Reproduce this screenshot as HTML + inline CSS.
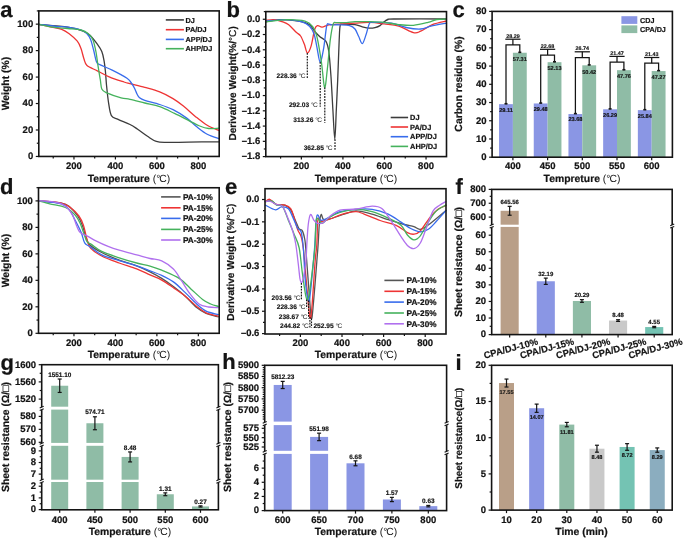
<!DOCTYPE html>
<html><head><meta charset="utf-8"><title>figure</title>
<style>
html,body{margin:0;padding:0;background:#fff;overflow:hidden;}
svg{display:block;font-family:"Liberation Sans", sans-serif;will-change:transform;text-rendering:geometricPrecision;}
</style></head><body>
<svg width="685" height="539" viewBox="0 0 685 539">
<rect width="685" height="539" fill="#fff"/>
<path d="M38.8,24.3C43.62,24.77 60.42,26.02 67.7,27.1C74.98,28.18 78.8,29.45 82.5,30.8C86.2,32.15 87.43,32.98 89.9,35.2C92.37,37.42 95.32,41.38 97.3,44.1C99.28,46.82 100.68,48.78 101.8,51.5C102.92,54.22 103.38,56.93 104,60.4C104.62,63.87 105.08,68.2 105.5,72.3C105.92,76.4 106,80 106.5,85C107,90 107.68,97.2 108.5,102.3C109.32,107.4 109.8,112.77 111.4,115.6C113,118.43 115,117.82 118.1,119.3C121.2,120.78 126.8,122.88 130,124.5C133.2,126.12 134.38,127.03 137.3,129C140.22,130.97 144.33,134.23 147.5,136.3C150.67,138.37 153.13,140.38 156.3,141.4C159.47,142.42 161.15,142.28 166.5,142.4C171.85,142.52 179.65,142.2 188.4,142.1C197.15,142 213.9,141.85 219,141.8" fill="none" stroke="#3c3c3c" stroke-width="1.3" stroke-linejoin="round" stroke-linecap="round"/>
<path d="M38.8,24.3C40.9,24.77 47.58,26.27 51.4,27.1C55.22,27.93 58.73,28.2 61.7,29.3C64.67,30.4 66.6,31.72 69.2,33.7C71.8,35.68 75.33,38.72 77.3,41.2C79.27,43.68 79.88,45.63 81,48.6C82.12,51.57 83,56.17 84,59C85,61.83 84.78,63.63 87,65.6C89.22,67.57 93.6,68.93 97.3,70.8C101,72.67 104.75,74.93 109.2,76.8C113.65,78.67 120.53,80.85 124,82C127.47,83.15 126.53,82.8 130,83.7C133.47,84.6 139.85,86.03 144.8,87.4C149.75,88.77 155,90.03 159.7,91.9C164.4,93.77 169.05,96.25 173,98.6C176.95,100.95 179.68,103.03 183.4,106C187.12,108.97 191.33,113.18 195.3,116.4C199.27,119.62 203.25,122.95 207.2,125.3C211.15,127.65 217.03,129.63 219,130.5" fill="none" stroke="#ee3434" stroke-width="1.3" stroke-linejoin="round" stroke-linecap="round"/>
<path d="M38.8,24.3C41.63,24.63 50.98,25.83 55.8,26.3C60.62,26.77 63.5,26.48 67.7,27.1C71.9,27.72 77.78,28.9 81,30C84.22,31.1 85.38,32.08 87,33.7C88.62,35.32 89.6,36.98 90.7,39.7C91.8,42.42 92.62,46.3 93.6,50C94.58,53.7 95.48,59.42 96.6,61.9C97.72,64.38 97.7,63.53 100.3,64.9C102.9,66.27 107.75,67.88 112.2,70.1C116.65,72.32 123.87,76.13 127,78.2C130.13,80.27 129.75,80.83 131,82.5C132.25,84.17 133.5,86.28 134.5,88.2C135.5,90.12 136.15,92.4 137,94C137.85,95.6 138.3,96.73 139.6,97.8C140.9,98.87 141.45,99.28 144.8,100.4C148.15,101.52 155,102.95 159.7,104.5C164.4,106.05 168.55,107.47 173,109.7C177.45,111.93 182.43,115.05 186.4,117.9C190.37,120.75 193.33,124.08 196.8,126.8C200.27,129.52 203.5,132.23 207.2,134.2C210.9,136.17 217.03,137.87 219,138.6" fill="none" stroke="#386cec" stroke-width="1.3" stroke-linejoin="round" stroke-linecap="round"/>
<path d="M38.8,24.3C41.13,24.77 47.98,26.4 52.8,27.1C57.62,27.8 63,28.02 67.7,28.5C72.4,28.98 77.55,29.13 81,30C84.45,30.87 86.42,32.08 88.4,33.7C90.38,35.32 91.65,36.73 92.9,39.7C94.15,42.67 95.03,47.05 95.9,51.5C96.77,55.95 97.37,61.7 98.1,66.4C98.83,71.1 99.68,75.95 100.3,79.7C100.92,83.45 100.82,86.75 101.8,88.9C102.78,91.05 102.98,91.12 106.2,92.6C109.42,94.08 117.13,96.68 121.1,97.8C125.07,98.92 126.05,98.43 130,99.3C133.95,100.17 139.85,101.77 144.8,103C149.75,104.23 154.75,104.97 159.7,106.7C164.65,108.43 169.57,111.05 174.5,113.4C179.43,115.75 185.1,118.7 189.3,120.8C193.5,122.9 196.48,124.72 199.7,126C202.92,127.28 205.38,128.13 208.6,128.5C211.82,128.87 217.27,128.25 219,128.2" fill="none" stroke="#45b25c" stroke-width="1.3" stroke-linejoin="round" stroke-linecap="round"/>
<rect x="38.8" y="10.9" width="180.4" height="145.55" fill="none" stroke="#141414" stroke-width="1.6"/>
<line x1="35.8" y1="156.45" x2="38.8" y2="156.45" stroke="#141414" stroke-width="1.2"/>
<line x1="35.8" y1="129.99" x2="38.8" y2="129.99" stroke="#141414" stroke-width="1.2"/>
<line x1="35.8" y1="103.53" x2="38.8" y2="103.53" stroke="#141414" stroke-width="1.2"/>
<line x1="35.8" y1="77.07" x2="38.8" y2="77.07" stroke="#141414" stroke-width="1.2"/>
<line x1="35.8" y1="50.61" x2="38.8" y2="50.61" stroke="#141414" stroke-width="1.2"/>
<line x1="35.8" y1="24.15" x2="38.8" y2="24.15" stroke="#141414" stroke-width="1.2"/>
<line x1="36.8" y1="143.22" x2="38.8" y2="143.22" stroke="#141414" stroke-width="1.2"/>
<line x1="36.8" y1="116.76" x2="38.8" y2="116.76" stroke="#141414" stroke-width="1.2"/>
<line x1="36.8" y1="90.3" x2="38.8" y2="90.3" stroke="#141414" stroke-width="1.2"/>
<line x1="36.8" y1="63.84" x2="38.8" y2="63.84" stroke="#141414" stroke-width="1.2"/>
<line x1="36.8" y1="37.38" x2="38.8" y2="37.38" stroke="#141414" stroke-width="1.2"/>
<line x1="36.8" y1="10.92" x2="38.8" y2="10.92" stroke="#141414" stroke-width="1.2"/>
<line x1="73.96" y1="156.45" x2="73.96" y2="159.45" stroke="#141414" stroke-width="1.2"/>
<line x1="115.42" y1="156.45" x2="115.42" y2="159.45" stroke="#141414" stroke-width="1.2"/>
<line x1="156.88" y1="156.45" x2="156.88" y2="159.45" stroke="#141414" stroke-width="1.2"/>
<line x1="198.34" y1="156.45" x2="198.34" y2="159.45" stroke="#141414" stroke-width="1.2"/>
<line x1="53.23" y1="156.45" x2="53.23" y2="158.45" stroke="#141414" stroke-width="1.2"/>
<line x1="94.69" y1="156.45" x2="94.69" y2="158.45" stroke="#141414" stroke-width="1.2"/>
<line x1="136.15" y1="156.45" x2="136.15" y2="158.45" stroke="#141414" stroke-width="1.2"/>
<line x1="177.61" y1="156.45" x2="177.61" y2="158.45" stroke="#141414" stroke-width="1.2"/>
<text x="33.2" y="159.3" font-size="9.5" font-weight="bold" text-anchor="end" fill="#141414" stroke="#141414" stroke-width="0.22">0</text>
<text x="33.2" y="132.84" font-size="9.5" font-weight="bold" text-anchor="end" fill="#141414" stroke="#141414" stroke-width="0.22">20</text>
<text x="33.2" y="106.38" font-size="9.5" font-weight="bold" text-anchor="end" fill="#141414" stroke="#141414" stroke-width="0.22">40</text>
<text x="33.2" y="79.92" font-size="9.5" font-weight="bold" text-anchor="end" fill="#141414" stroke="#141414" stroke-width="0.22">60</text>
<text x="33.2" y="53.46" font-size="9.5" font-weight="bold" text-anchor="end" fill="#141414" stroke="#141414" stroke-width="0.22">80</text>
<text x="33.2" y="27" font-size="9.5" font-weight="bold" text-anchor="end" fill="#141414" stroke="#141414" stroke-width="0.22">100</text>
<text x="73.96" y="169.4" font-size="9.5" font-weight="bold" text-anchor="middle" fill="#141414" stroke="#141414" stroke-width="0.22">200</text>
<text x="115.42" y="169.4" font-size="9.5" font-weight="bold" text-anchor="middle" fill="#141414" stroke="#141414" stroke-width="0.22">400</text>
<text x="156.88" y="169.4" font-size="9.5" font-weight="bold" text-anchor="middle" fill="#141414" stroke="#141414" stroke-width="0.22">600</text>
<text x="198.34" y="169.4" font-size="9.5" font-weight="bold" text-anchor="middle" fill="#141414" stroke="#141414" stroke-width="0.22">800</text>
<text x="129" y="182" font-size="10.4" font-weight="bold" text-anchor="middle" fill="#141414" stroke="#141414" stroke-width="0.2">Temperature <tspan font-weight="normal" stroke-width="0">(&#176;</tspan><tspan font-weight="normal" stroke-width="0" dx="-1">C)</tspan></text>
<text x="0" y="0" font-size="10.4" font-weight="bold" text-anchor="middle" fill="#141414" stroke="#141414" stroke-width="0.2" transform="translate(9,83.6) rotate(-90)">Weight (%)</text>
<line x1="165.8" y1="19.9" x2="183.9" y2="19.9" stroke="#3c3c3c" stroke-width="1.6"/>
<text x="185.6" y="22.6" font-size="7.3" font-weight="bold" text-anchor="start" fill="#141414" stroke="#141414" stroke-width="0.2">DJ</text>
<line x1="165.8" y1="29.7" x2="183.9" y2="29.7" stroke="#ee3434" stroke-width="1.6"/>
<text x="185.6" y="32.4" font-size="7.3" font-weight="bold" text-anchor="start" fill="#141414" stroke="#141414" stroke-width="0.2">PA/DJ</text>
<line x1="165.8" y1="39.4" x2="183.9" y2="39.4" stroke="#386cec" stroke-width="1.6"/>
<text x="185.6" y="42.1" font-size="7.3" font-weight="bold" text-anchor="start" fill="#141414" stroke="#141414" stroke-width="0.2">APP/DJ</text>
<line x1="165.8" y1="48.7" x2="183.9" y2="48.7" stroke="#45b25c" stroke-width="1.6"/>
<text x="185.6" y="51.4" font-size="7.3" font-weight="bold" text-anchor="start" fill="#141414" stroke="#141414" stroke-width="0.2">AHP/DJ</text>
<text x="0.3" y="16.6" font-size="22" font-weight="bold" text-anchor="start" fill="#141414" stroke="#141414" stroke-width="0.22">a</text>
<path d="M265.8,21.9C268.13,21.52 274.25,19.73 279.8,19.6C285.35,19.47 294.15,20.23 299.1,21.1C304.05,21.97 306.78,22.93 309.5,24.8C312.22,26.67 313.67,30.32 315.4,32.3C317.13,34.28 318.17,35.22 319.9,36.7C321.63,38.18 324.32,38.73 325.8,41.2C327.28,43.67 327.93,45.57 328.8,51.5C329.67,57.43 330.32,67.05 331,76.8C331.68,86.55 332.27,99.58 332.9,110C333.53,120.42 334.23,139.3 334.8,139.3C335.37,139.3 335.82,119.88 336.3,110C336.78,100.12 337.22,91.72 337.7,80C338.18,68.28 338.78,48.78 339.2,39.7C339.62,30.62 339.57,28.05 340.2,25.5C340.83,22.95 340.53,24.55 343,24.4C345.47,24.25 351.78,24.2 355,24.6C358.22,25 359.87,26.2 362.3,26.8C364.73,27.4 367.48,28.07 369.6,28.2C371.72,28.33 373.27,28.03 375,27.6C376.73,27.17 378.5,26.57 380,25.6C381.5,24.63 382.67,22.82 384,21.8C385.33,20.78 386.33,19.97 388,19.5C389.67,19.03 384.25,19.08 394,19C403.75,18.92 437.75,19 446.5,19" fill="none" stroke="#3c3c3c" stroke-width="1.3" stroke-linejoin="round" stroke-linecap="round"/>
<path d="M265.8,20.4C267.15,20.27 271.07,19.35 273.9,19.6C276.73,19.85 280.33,21.03 282.8,21.9C285.27,22.77 286.47,23.07 288.7,24.8C290.93,26.53 294.22,30.43 296.2,32.3C298.18,34.17 299.25,34.03 300.6,36C301.95,37.97 303.18,41.3 304.3,44.1C305.42,46.9 306.18,52.42 307.3,52.8C308.42,53.18 309.77,50.32 311,46.4C312.23,42.48 313.58,32.77 314.7,29.3C315.82,25.83 316.47,25.97 317.7,25.6C318.93,25.23 320.25,27.23 322.1,27.1C323.95,26.97 325.95,25.3 328.8,24.8C331.65,24.3 334.83,24.38 339.2,24.1C343.57,23.82 349.93,23.38 355,23.1C360.07,22.82 364.73,22.27 369.6,22.4C374.47,22.53 379.33,23.28 384.2,23.9C389.07,24.52 393.93,24.65 398.8,26.1C403.67,27.55 409.75,31.75 413.4,32.6C417.05,33.45 417.53,32.53 420.7,31.2C423.87,29.87 428.1,26.3 432.4,24.6C436.7,22.9 444.15,21.6 446.5,21" fill="none" stroke="#ee3434" stroke-width="1.3" stroke-linejoin="round" stroke-linecap="round"/>
<path d="M265.8,21.1C269.38,20.85 281.25,19.47 287.3,19.6C293.35,19.73 298.4,20.78 302.1,21.9C305.8,23.02 307.52,24.33 309.5,26.3C311.48,28.27 312.77,30.23 314,33.7C315.23,37.17 315.88,42.38 316.9,47.1C317.92,51.82 318.98,61.75 320.1,62C321.22,62.25 322.52,54.55 323.6,48.6C324.68,42.65 325.73,30.38 326.6,26.3C327.47,22.22 327.93,24.35 328.8,24.1C329.67,23.85 330.07,24.68 331.8,24.8C333.53,24.92 336.23,24.67 339.2,24.8C342.17,24.93 346.97,24.9 349.6,25.6C352.23,26.3 353.5,27.22 355,29C356.5,30.78 357.38,33.87 358.6,36.3C359.82,38.73 361.07,43.85 362.3,43.6C363.53,43.35 364.78,38.22 366,34.8C367.22,31.38 368.27,25.17 369.6,23.1C370.93,21.03 370.35,22.4 374,22.4C377.65,22.4 386.15,22.25 391.5,23.1C396.85,23.95 401.23,26.52 406.1,27.5C410.97,28.48 416.57,29.23 420.7,29C424.83,28.77 426.6,27.08 430.9,26.1C435.2,25.12 443.9,23.6 446.5,23.1" fill="none" stroke="#386cec" stroke-width="1.3" stroke-linejoin="round" stroke-linecap="round"/>
<path d="M265.8,21.9C269.38,21.52 280.77,19.73 287.3,19.6C293.83,19.47 300.8,19.98 305,21.1C309.2,22.22 310.52,23.7 312.5,26.3C314.48,28.9 315.42,30.75 316.9,36.7C318.38,42.65 320.12,53.55 321.4,62C322.68,70.45 323.62,86.18 324.6,87.4C325.58,88.62 326.35,77.25 327.3,69.3C328.25,61.35 329.32,47.23 330.3,39.7C331.28,32.17 332.22,26.95 333.2,24.1C334.18,21.25 333.97,22.85 336.2,22.6C338.43,22.35 343.47,22.75 346.6,22.6C349.73,22.45 351.17,21.85 355,21.7C358.83,21.55 364.73,21.58 369.6,21.7C374.47,21.82 379.33,21.92 384.2,22.4C389.07,22.88 393.93,24.12 398.8,24.6C403.67,25.08 408.53,25.67 413.4,25.3C418.27,24.93 424.1,23.37 428,22.4C431.9,21.43 433.72,20.07 436.8,19.5C439.88,18.93 444.88,19.08 446.5,19" fill="none" stroke="#45b25c" stroke-width="1.3" stroke-linejoin="round" stroke-linecap="round"/>
<rect x="265.8" y="11.6" width="180.7" height="145" fill="none" stroke="#141414" stroke-width="1.6"/>
<line x1="262.8" y1="19.26" x2="265.8" y2="19.26" stroke="#141414" stroke-width="1.2"/>
<line x1="262.8" y1="34.52" x2="265.8" y2="34.52" stroke="#141414" stroke-width="1.2"/>
<line x1="262.8" y1="49.78" x2="265.8" y2="49.78" stroke="#141414" stroke-width="1.2"/>
<line x1="262.8" y1="65.04" x2="265.8" y2="65.04" stroke="#141414" stroke-width="1.2"/>
<line x1="262.8" y1="80.3" x2="265.8" y2="80.3" stroke="#141414" stroke-width="1.2"/>
<line x1="262.8" y1="95.56" x2="265.8" y2="95.56" stroke="#141414" stroke-width="1.2"/>
<line x1="262.8" y1="110.82" x2="265.8" y2="110.82" stroke="#141414" stroke-width="1.2"/>
<line x1="262.8" y1="126.08" x2="265.8" y2="126.08" stroke="#141414" stroke-width="1.2"/>
<line x1="262.8" y1="141.34" x2="265.8" y2="141.34" stroke="#141414" stroke-width="1.2"/>
<line x1="262.8" y1="156.6" x2="265.8" y2="156.6" stroke="#141414" stroke-width="1.2"/>
<line x1="263.8" y1="26.89" x2="265.8" y2="26.89" stroke="#141414" stroke-width="1.2"/>
<line x1="263.8" y1="42.15" x2="265.8" y2="42.15" stroke="#141414" stroke-width="1.2"/>
<line x1="263.8" y1="57.41" x2="265.8" y2="57.41" stroke="#141414" stroke-width="1.2"/>
<line x1="263.8" y1="72.67" x2="265.8" y2="72.67" stroke="#141414" stroke-width="1.2"/>
<line x1="263.8" y1="87.93" x2="265.8" y2="87.93" stroke="#141414" stroke-width="1.2"/>
<line x1="263.8" y1="103.19" x2="265.8" y2="103.19" stroke="#141414" stroke-width="1.2"/>
<line x1="263.8" y1="118.45" x2="265.8" y2="118.45" stroke="#141414" stroke-width="1.2"/>
<line x1="263.8" y1="133.71" x2="265.8" y2="133.71" stroke="#141414" stroke-width="1.2"/>
<line x1="263.8" y1="148.97" x2="265.8" y2="148.97" stroke="#141414" stroke-width="1.2"/>
<line x1="263.8" y1="11.63" x2="265.8" y2="11.63" stroke="#141414" stroke-width="1.2"/>
<line x1="301.36" y1="156.6" x2="301.36" y2="159.6" stroke="#141414" stroke-width="1.2"/>
<line x1="342.92" y1="156.6" x2="342.92" y2="159.6" stroke="#141414" stroke-width="1.2"/>
<line x1="384.48" y1="156.6" x2="384.48" y2="159.6" stroke="#141414" stroke-width="1.2"/>
<line x1="426.04" y1="156.6" x2="426.04" y2="159.6" stroke="#141414" stroke-width="1.2"/>
<line x1="280.58" y1="156.6" x2="280.58" y2="158.6" stroke="#141414" stroke-width="1.2"/>
<line x1="322.14" y1="156.6" x2="322.14" y2="158.6" stroke="#141414" stroke-width="1.2"/>
<line x1="363.7" y1="156.6" x2="363.7" y2="158.6" stroke="#141414" stroke-width="1.2"/>
<line x1="405.26" y1="156.6" x2="405.26" y2="158.6" stroke="#141414" stroke-width="1.2"/>
<text x="260.2" y="22.11" font-size="9.5" font-weight="bold" text-anchor="end" fill="#141414" stroke="#141414" stroke-width="0.22">0.0</text>
<text x="260.2" y="37.37" font-size="9.5" font-weight="bold" text-anchor="end" fill="#141414" stroke="#141414" stroke-width="0.22">&#8211;0.2</text>
<text x="260.2" y="52.63" font-size="9.5" font-weight="bold" text-anchor="end" fill="#141414" stroke="#141414" stroke-width="0.22">&#8211;0.4</text>
<text x="260.2" y="67.89" font-size="9.5" font-weight="bold" text-anchor="end" fill="#141414" stroke="#141414" stroke-width="0.22">&#8211;0.6</text>
<text x="260.2" y="83.15" font-size="9.5" font-weight="bold" text-anchor="end" fill="#141414" stroke="#141414" stroke-width="0.22">&#8211;0.8</text>
<text x="260.2" y="98.41" font-size="9.5" font-weight="bold" text-anchor="end" fill="#141414" stroke="#141414" stroke-width="0.22">&#8211;1.0</text>
<text x="260.2" y="113.67" font-size="9.5" font-weight="bold" text-anchor="end" fill="#141414" stroke="#141414" stroke-width="0.22">&#8211;1.2</text>
<text x="260.2" y="128.93" font-size="9.5" font-weight="bold" text-anchor="end" fill="#141414" stroke="#141414" stroke-width="0.22">&#8211;1.4</text>
<text x="260.2" y="144.19" font-size="9.5" font-weight="bold" text-anchor="end" fill="#141414" stroke="#141414" stroke-width="0.22">&#8211;1.6</text>
<text x="260.2" y="159.45" font-size="9.5" font-weight="bold" text-anchor="end" fill="#141414" stroke="#141414" stroke-width="0.22">&#8211;1.8</text>
<text x="301.36" y="169.4" font-size="9.5" font-weight="bold" text-anchor="middle" fill="#141414" stroke="#141414" stroke-width="0.22">200</text>
<text x="342.92" y="169.4" font-size="9.5" font-weight="bold" text-anchor="middle" fill="#141414" stroke="#141414" stroke-width="0.22">400</text>
<text x="384.48" y="169.4" font-size="9.5" font-weight="bold" text-anchor="middle" fill="#141414" stroke="#141414" stroke-width="0.22">600</text>
<text x="426.04" y="169.4" font-size="9.5" font-weight="bold" text-anchor="middle" fill="#141414" stroke="#141414" stroke-width="0.22">800</text>
<text x="356" y="182" font-size="10.4" font-weight="bold" text-anchor="middle" fill="#141414" stroke="#141414" stroke-width="0.2">Temperature <tspan font-weight="normal" stroke-width="0">(&#176;</tspan><tspan font-weight="normal" stroke-width="0" dx="-1">C)</tspan></text>
<text x="0" y="0" font-size="10.1" font-weight="bold" text-anchor="middle" fill="#141414" stroke="#141414" stroke-width="0.2" transform="translate(235.8,83.4) rotate(-90)">Derivative Weight<tspan font-weight="bold">(%/</tspan><tspan font-weight="normal">&#176;C</tspan>)</text>
<line x1="307.3" y1="53" x2="307.3" y2="78.2" stroke="#141414" stroke-width="1.15" stroke-dasharray="1.8,1.1"/>
<text x="305.4" y="78.2" font-size="6.6" font-weight="bold" text-anchor="end" fill="#141414" stroke="#141414" stroke-width="0.15">228.36 <tspan font-weight="normal" stroke-width="0">&#176;</tspan><tspan font-weight="normal" stroke-width="0" dx="-0.6">C</tspan></text>
<line x1="320.2" y1="62" x2="320.2" y2="106.7" stroke="#141414" stroke-width="1.15" stroke-dasharray="1.8,1.1"/>
<text x="317.7" y="106.7" font-size="6.6" font-weight="bold" text-anchor="end" fill="#141414" stroke="#141414" stroke-width="0.15">292.03 <tspan font-weight="normal" stroke-width="0">&#176;</tspan><tspan font-weight="normal" stroke-width="0" dx="-0.6">C</tspan></text>
<line x1="324.8" y1="87.4" x2="324.8" y2="123" stroke="#141414" stroke-width="1.15" stroke-dasharray="1.8,1.1"/>
<text x="322.1" y="122.3" font-size="6.6" font-weight="bold" text-anchor="end" fill="#141414" stroke="#141414" stroke-width="0.15">313.26 <tspan font-weight="normal" stroke-width="0">&#176;</tspan><tspan font-weight="normal" stroke-width="0" dx="-0.6">C</tspan></text>
<line x1="335" y1="139.3" x2="335" y2="149.7" stroke="#141414" stroke-width="1.15" stroke-dasharray="1.8,1.1"/>
<text x="332.5" y="149.7" font-size="6.6" font-weight="bold" text-anchor="end" fill="#141414" stroke="#141414" stroke-width="0.15">362.85 <tspan font-weight="normal" stroke-width="0">&#176;</tspan><tspan font-weight="normal" stroke-width="0" dx="-0.6">C</tspan></text>
<line x1="390.7" y1="117.5" x2="408.1" y2="117.5" stroke="#3c3c3c" stroke-width="1.6"/>
<text x="410.1" y="120.2" font-size="7.4" font-weight="bold" text-anchor="start" fill="#141414" stroke="#141414" stroke-width="0.2">DJ</text>
<line x1="390.7" y1="127" x2="408.1" y2="127" stroke="#ee3434" stroke-width="1.6"/>
<text x="410.1" y="129.7" font-size="7.4" font-weight="bold" text-anchor="start" fill="#141414" stroke="#141414" stroke-width="0.2">PA/DJ</text>
<line x1="390.7" y1="136.7" x2="408.1" y2="136.7" stroke="#386cec" stroke-width="1.6"/>
<text x="410.1" y="139.4" font-size="7.4" font-weight="bold" text-anchor="start" fill="#141414" stroke="#141414" stroke-width="0.2">APP/DJ</text>
<line x1="390.7" y1="146.4" x2="408.1" y2="146.4" stroke="#45b25c" stroke-width="1.6"/>
<text x="410.1" y="149.1" font-size="7.4" font-weight="bold" text-anchor="start" fill="#141414" stroke="#141414" stroke-width="0.2">AHP/DJ</text>
<text x="226.4" y="16.8" font-size="22" font-weight="bold" text-anchor="start" fill="#141414" stroke="#141414" stroke-width="0.22">b</text>
<rect x="499.05" y="104.15" width="13.85" height="53.05" fill="#8a96e4"/>
<rect x="512.9" y="52.75" width="13.85" height="104.45" fill="#8fbca6"/>
<rect x="533.75" y="103.47" width="13.85" height="53.73" fill="#8a96e4"/>
<rect x="547.6" y="62.19" width="13.85" height="95.01" fill="#8fbca6"/>
<rect x="568.45" y="114.04" width="13.85" height="43.16" fill="#8a96e4"/>
<rect x="582.3" y="65.31" width="13.85" height="91.89" fill="#8fbca6"/>
<rect x="603.15" y="109.29" width="13.85" height="47.91" fill="#8a96e4"/>
<rect x="617" y="70.16" width="13.85" height="87.04" fill="#8fbca6"/>
<rect x="637.85" y="110.11" width="13.85" height="47.09" fill="#8a96e4"/>
<rect x="651.7" y="71.05" width="13.85" height="86.15" fill="#8fbca6"/>
<path d="M506,104.15 V44.9 H519.8 V52.75" fill="none" stroke="#141414" stroke-width="1.25"/>
<line x1="512.9" y1="44.9" x2="512.9" y2="39.2" stroke="#141414" stroke-width="1.25"/>
<line x1="505.3" y1="39.2" x2="520.5" y2="39.2" stroke="#141414" stroke-width="1.25"/>
<text x="512.9" y="37.7" font-size="5.4" font-weight="bold" text-anchor="middle" fill="#141414" stroke="#141414" stroke-width="0.15">28.29</text>
<rect x="504.5" y="102.95" width="3" height="1.6" fill="#141414"/>
<rect x="518.3" y="51.55" width="3" height="1.6" fill="#141414"/>
<text x="506" y="111.55" font-size="5.6" font-weight="bold" text-anchor="middle" fill="#141414" stroke="#141414" stroke-width="0.15">29.11</text>
<text x="519.8" y="60.95" font-size="5.6" font-weight="bold" text-anchor="middle" fill="#141414" stroke="#141414" stroke-width="0.15">57.31</text>
<path d="M540.7,103.47 V55 H554.5 V62.19" fill="none" stroke="#141414" stroke-width="1.25"/>
<line x1="547.6" y1="55" x2="547.6" y2="49.3" stroke="#141414" stroke-width="1.25"/>
<line x1="540" y1="49.3" x2="555.2" y2="49.3" stroke="#141414" stroke-width="1.25"/>
<text x="547.6" y="47.8" font-size="5.4" font-weight="bold" text-anchor="middle" fill="#141414" stroke="#141414" stroke-width="0.15">22.68</text>
<rect x="539.2" y="102.27" width="3" height="1.6" fill="#141414"/>
<rect x="553" y="60.99" width="3" height="1.6" fill="#141414"/>
<text x="540.7" y="110.87" font-size="5.6" font-weight="bold" text-anchor="middle" fill="#141414" stroke="#141414" stroke-width="0.15">29.48</text>
<text x="554.5" y="70.39" font-size="5.6" font-weight="bold" text-anchor="middle" fill="#141414" stroke="#141414" stroke-width="0.15">52.13</text>
<path d="M575.4,114.04 V57.5 H589.2 V65.31" fill="none" stroke="#141414" stroke-width="1.25"/>
<line x1="582.3" y1="57.5" x2="582.3" y2="51.8" stroke="#141414" stroke-width="1.25"/>
<line x1="574.7" y1="51.8" x2="589.9" y2="51.8" stroke="#141414" stroke-width="1.25"/>
<text x="582.3" y="50.3" font-size="5.4" font-weight="bold" text-anchor="middle" fill="#141414" stroke="#141414" stroke-width="0.15">26.74</text>
<rect x="573.9" y="112.84" width="3" height="1.6" fill="#141414"/>
<rect x="587.7" y="64.11" width="3" height="1.6" fill="#141414"/>
<text x="575.4" y="121.44" font-size="5.6" font-weight="bold" text-anchor="middle" fill="#141414" stroke="#141414" stroke-width="0.15">23.68</text>
<text x="589.2" y="73.51" font-size="5.6" font-weight="bold" text-anchor="middle" fill="#141414" stroke="#141414" stroke-width="0.15">50.42</text>
<path d="M610.1,109.29 V62.1 H623.9 V70.16" fill="none" stroke="#141414" stroke-width="1.25"/>
<line x1="617" y1="62.1" x2="617" y2="56.4" stroke="#141414" stroke-width="1.25"/>
<line x1="609.4" y1="56.4" x2="624.6" y2="56.4" stroke="#141414" stroke-width="1.25"/>
<text x="617" y="54.9" font-size="5.4" font-weight="bold" text-anchor="middle" fill="#141414" stroke="#141414" stroke-width="0.15">21.47</text>
<rect x="608.6" y="108.09" width="3" height="1.6" fill="#141414"/>
<rect x="622.4" y="68.96" width="3" height="1.6" fill="#141414"/>
<text x="610.1" y="116.69" font-size="5.6" font-weight="bold" text-anchor="middle" fill="#141414" stroke="#141414" stroke-width="0.15">26.29</text>
<text x="623.9" y="78.36" font-size="5.6" font-weight="bold" text-anchor="middle" fill="#141414" stroke="#141414" stroke-width="0.15">47.76</text>
<path d="M644.8,110.11 V63.2 H658.6 V71.05" fill="none" stroke="#141414" stroke-width="1.25"/>
<line x1="651.7" y1="63.2" x2="651.7" y2="57.5" stroke="#141414" stroke-width="1.25"/>
<line x1="644.1" y1="57.5" x2="659.3" y2="57.5" stroke="#141414" stroke-width="1.25"/>
<text x="651.7" y="56" font-size="5.4" font-weight="bold" text-anchor="middle" fill="#141414" stroke="#141414" stroke-width="0.15">21.43</text>
<rect x="643.3" y="108.91" width="3" height="1.6" fill="#141414"/>
<rect x="657.1" y="69.85" width="3" height="1.6" fill="#141414"/>
<text x="644.8" y="117.51" font-size="5.6" font-weight="bold" text-anchor="middle" fill="#141414" stroke="#141414" stroke-width="0.15">25.84</text>
<text x="658.6" y="79.25" font-size="5.6" font-weight="bold" text-anchor="middle" fill="#141414" stroke="#141414" stroke-width="0.15">47.27</text>
<rect x="492.1" y="11.4" width="180.3" height="145.8" fill="none" stroke="#141414" stroke-width="1.6"/>
<line x1="489.1" y1="157.2" x2="492.1" y2="157.2" stroke="#141414" stroke-width="1.2"/>
<line x1="489.1" y1="138.97" x2="492.1" y2="138.97" stroke="#141414" stroke-width="1.2"/>
<line x1="489.1" y1="120.75" x2="492.1" y2="120.75" stroke="#141414" stroke-width="1.2"/>
<line x1="489.1" y1="102.52" x2="492.1" y2="102.52" stroke="#141414" stroke-width="1.2"/>
<line x1="489.1" y1="84.3" x2="492.1" y2="84.3" stroke="#141414" stroke-width="1.2"/>
<line x1="489.1" y1="66.07" x2="492.1" y2="66.07" stroke="#141414" stroke-width="1.2"/>
<line x1="489.1" y1="47.85" x2="492.1" y2="47.85" stroke="#141414" stroke-width="1.2"/>
<line x1="489.1" y1="29.62" x2="492.1" y2="29.62" stroke="#141414" stroke-width="1.2"/>
<line x1="489.1" y1="11.4" x2="492.1" y2="11.4" stroke="#141414" stroke-width="1.2"/>
<line x1="490.1" y1="148.09" x2="492.1" y2="148.09" stroke="#141414" stroke-width="1.2"/>
<line x1="490.1" y1="129.86" x2="492.1" y2="129.86" stroke="#141414" stroke-width="1.2"/>
<line x1="490.1" y1="111.64" x2="492.1" y2="111.64" stroke="#141414" stroke-width="1.2"/>
<line x1="490.1" y1="93.41" x2="492.1" y2="93.41" stroke="#141414" stroke-width="1.2"/>
<line x1="490.1" y1="75.19" x2="492.1" y2="75.19" stroke="#141414" stroke-width="1.2"/>
<line x1="490.1" y1="56.96" x2="492.1" y2="56.96" stroke="#141414" stroke-width="1.2"/>
<line x1="490.1" y1="38.74" x2="492.1" y2="38.74" stroke="#141414" stroke-width="1.2"/>
<line x1="490.1" y1="20.51" x2="492.1" y2="20.51" stroke="#141414" stroke-width="1.2"/>
<line x1="512.9" y1="157.2" x2="512.9" y2="160.2" stroke="#141414" stroke-width="1.2"/>
<line x1="547.6" y1="157.2" x2="547.6" y2="160.2" stroke="#141414" stroke-width="1.2"/>
<line x1="582.3" y1="157.2" x2="582.3" y2="160.2" stroke="#141414" stroke-width="1.2"/>
<line x1="617" y1="157.2" x2="617" y2="160.2" stroke="#141414" stroke-width="1.2"/>
<line x1="651.7" y1="157.2" x2="651.7" y2="160.2" stroke="#141414" stroke-width="1.2"/>
<text x="486.5" y="160.05" font-size="9.5" font-weight="bold" text-anchor="end" fill="#141414" stroke="#141414" stroke-width="0.22">0</text>
<text x="486.5" y="141.82" font-size="9.5" font-weight="bold" text-anchor="end" fill="#141414" stroke="#141414" stroke-width="0.22">10</text>
<text x="486.5" y="123.6" font-size="9.5" font-weight="bold" text-anchor="end" fill="#141414" stroke="#141414" stroke-width="0.22">20</text>
<text x="486.5" y="105.37" font-size="9.5" font-weight="bold" text-anchor="end" fill="#141414" stroke="#141414" stroke-width="0.22">30</text>
<text x="486.5" y="87.15" font-size="9.5" font-weight="bold" text-anchor="end" fill="#141414" stroke="#141414" stroke-width="0.22">40</text>
<text x="486.5" y="68.92" font-size="9.5" font-weight="bold" text-anchor="end" fill="#141414" stroke="#141414" stroke-width="0.22">50</text>
<text x="486.5" y="50.7" font-size="9.5" font-weight="bold" text-anchor="end" fill="#141414" stroke="#141414" stroke-width="0.22">60</text>
<text x="486.5" y="32.47" font-size="9.5" font-weight="bold" text-anchor="end" fill="#141414" stroke="#141414" stroke-width="0.22">70</text>
<text x="486.5" y="14.25" font-size="9.5" font-weight="bold" text-anchor="end" fill="#141414" stroke="#141414" stroke-width="0.22">80</text>
<text x="512.9" y="169.4" font-size="9.5" font-weight="bold" text-anchor="middle" fill="#141414" stroke="#141414" stroke-width="0.22">400</text>
<text x="547.6" y="169.4" font-size="9.5" font-weight="bold" text-anchor="middle" fill="#141414" stroke="#141414" stroke-width="0.22">450</text>
<text x="582.3" y="169.4" font-size="9.5" font-weight="bold" text-anchor="middle" fill="#141414" stroke="#141414" stroke-width="0.22">500</text>
<text x="617" y="169.4" font-size="9.5" font-weight="bold" text-anchor="middle" fill="#141414" stroke="#141414" stroke-width="0.22">550</text>
<text x="651.7" y="169.4" font-size="9.5" font-weight="bold" text-anchor="middle" fill="#141414" stroke="#141414" stroke-width="0.22">600</text>
<text x="582" y="182" font-size="10.4" font-weight="bold" text-anchor="middle" fill="#141414" stroke="#141414" stroke-width="0.2">Tempreture <tspan font-weight="normal" stroke-width="0">(&#176;</tspan><tspan font-weight="normal" stroke-width="0" dx="-1">C)</tspan></text>
<text x="0" y="0" font-size="10.4" font-weight="bold" text-anchor="middle" fill="#141414" stroke="#141414" stroke-width="0.2" transform="translate(461.7,84) rotate(-90)">Carbon residue (%)</text>
<rect x="621.4" y="16.2" width="15.9" height="7.7" fill="#8a96e4"/>
<rect x="621.4" y="25.4" width="15.9" height="7.7" fill="#8fbca6"/>
<text x="640" y="22.7" font-size="7.2" font-weight="bold" text-anchor="start" fill="#141414" stroke="#141414" stroke-width="0.2">CDJ</text>
<text x="640" y="31.6" font-size="7.2" font-weight="bold" text-anchor="start" fill="#141414" stroke="#141414" stroke-width="0.2">CPA/DJ</text>
<text x="452.4" y="16.5" font-size="22" font-weight="bold" text-anchor="start" fill="#141414" stroke="#141414" stroke-width="0.22">c</text>
<path d="M38.5,200.8C42.32,201.2 56.23,202.22 61.4,203.2C66.57,204.18 66.78,204.57 69.5,206.7C72.22,208.83 75.55,212.88 77.7,216C79.85,219.12 81.03,221.9 82.4,225.4C83.77,228.9 84.63,233.73 85.9,237C87.17,240.27 87.37,242.42 90,245C92.63,247.58 96.83,249.98 101.7,252.5C106.57,255.02 113.37,257.87 119.2,260.1C125.03,262.33 131.57,263.93 136.7,265.9C141.83,267.87 145.83,269.82 150,271.9C154.17,273.98 157.8,275.97 161.7,278.4C165.6,280.83 169.52,283.58 173.4,286.5C177.28,289.42 181.12,292.38 185,295.9C188.88,299.42 193.18,304.68 196.7,307.6C200.22,310.52 202.5,311.85 206.1,313.4C209.7,314.95 216.27,316.32 218.3,316.9" fill="none" stroke="#555555" stroke-width="1.3" stroke-linejoin="round" stroke-linecap="round"/>
<path d="M38.5,200.8C42.32,201.2 56.03,202.03 61.4,203.2C66.77,204.37 67.78,205.67 70.7,207.8C73.62,209.93 76.77,213.07 78.9,216C81.03,218.93 82.15,221.5 83.5,225.4C84.85,229.3 85.83,235.63 87,239.4C88.17,243.17 88.05,245.23 90.5,248C92.95,250.77 96.92,253.5 101.7,256C106.48,258.5 113.37,260.85 119.2,263C125.03,265.15 131.57,266.92 136.7,268.9C141.83,270.88 145.83,273.03 150,274.9C154.17,276.77 157.8,277.97 161.7,280.1C165.6,282.23 169.52,285.07 173.4,287.7C177.28,290.33 181.12,292.78 185,295.9C188.88,299.02 193.18,303.58 196.7,306.4C200.22,309.22 202.5,311.15 206.1,312.8C209.7,314.45 216.27,315.72 218.3,316.3" fill="none" stroke="#ee3434" stroke-width="1.3" stroke-linejoin="round" stroke-linecap="round"/>
<path d="M38.5,200.8C42.32,201.3 56.23,202.23 61.4,203.8C66.57,205.37 67.17,207.38 69.5,210.2C71.83,213.02 73.45,217 75.4,220.7C77.35,224.4 79.65,228.7 81.2,232.4C82.75,236.1 83.23,240.52 84.7,242.9C86.17,245.28 87.17,244.7 90,246.7C92.83,248.7 96.83,252.57 101.7,254.9C106.57,257.23 113.37,258.87 119.2,260.7C125.03,262.53 131.57,264.22 136.7,265.9C141.83,267.58 145.83,269.22 150,270.8C154.17,272.38 157.8,273.55 161.7,275.4C165.6,277.25 169.52,279.07 173.4,281.9C177.28,284.73 181.12,288.72 185,292.4C188.88,296.08 193.18,300.88 196.7,304C200.22,307.12 202.5,309.33 206.1,311.1C209.7,312.87 216.27,314.02 218.3,314.6" fill="none" stroke="#386cec" stroke-width="1.3" stroke-linejoin="round" stroke-linecap="round"/>
<path d="M38.5,200.8C40.37,201.3 45.88,202.92 49.7,203.8C53.52,204.68 58.28,205.23 61.4,206.1C64.52,206.97 66.07,207.45 68.4,209C70.73,210.55 73.47,213.07 75.4,215.4C77.33,217.73 78.65,220.17 80,223C81.35,225.83 82.33,229.28 83.5,232.4C84.67,235.52 85.63,239.67 87,241.7C88.37,243.73 89.25,242.98 91.7,244.6C94.15,246.22 97.12,249.2 101.7,251.4C106.28,253.6 113.37,255.87 119.2,257.8C125.03,259.73 131.57,261.62 136.7,263C141.83,264.38 145.83,264.9 150,266.1C154.17,267.3 156.83,268.15 161.7,270.2C166.57,272.25 174.33,275.28 179.2,278.4C184.07,281.52 187,285.4 190.9,288.9C194.8,292.4 199.3,296.88 202.6,299.4C205.9,301.92 208.08,302.83 210.7,304C213.32,305.17 217.03,306 218.3,306.4" fill="none" stroke="#45b25c" stroke-width="1.3" stroke-linejoin="round" stroke-linecap="round"/>
<path d="M38.5,200.8C40.37,200.9 45.88,200.9 49.7,201.4C53.52,201.9 58.28,202.53 61.4,203.8C64.52,205.07 66.47,206.97 68.4,209C70.33,211.03 71.65,213.27 73,216C74.35,218.73 75.33,222.67 76.5,225.4C77.67,228.13 78.25,230.65 80,232.4C81.75,234.15 84.27,234.45 87,235.9C89.73,237.35 92.88,239.35 96.4,241.1C99.92,242.85 104.3,244.88 108.1,246.4C111.9,247.92 114.43,248.78 119.2,250.2C123.97,251.62 131.57,253.52 136.7,254.9C141.83,256.28 145.83,257.52 150,258.5C154.17,259.48 157.8,259.05 161.7,260.8C165.6,262.55 170.1,265.68 173.4,269C176.7,272.32 178.78,276.62 181.5,280.7C184.22,284.78 186.78,289.62 189.7,293.5C192.62,297.38 195.88,301.75 199,304C202.12,306.25 205.18,306.4 208.4,307C211.62,307.6 216.65,307.5 218.3,307.6" fill="none" stroke="#b070ee" stroke-width="1.3" stroke-linejoin="round" stroke-linecap="round"/>
<rect x="38.5" y="187.75" width="180.7" height="145.55" fill="none" stroke="#141414" stroke-width="1.6"/>
<line x1="35.5" y1="333.3" x2="38.5" y2="333.3" stroke="#141414" stroke-width="1.2"/>
<line x1="35.5" y1="306.82" x2="38.5" y2="306.82" stroke="#141414" stroke-width="1.2"/>
<line x1="35.5" y1="280.34" x2="38.5" y2="280.34" stroke="#141414" stroke-width="1.2"/>
<line x1="35.5" y1="253.86" x2="38.5" y2="253.86" stroke="#141414" stroke-width="1.2"/>
<line x1="35.5" y1="227.38" x2="38.5" y2="227.38" stroke="#141414" stroke-width="1.2"/>
<line x1="35.5" y1="200.9" x2="38.5" y2="200.9" stroke="#141414" stroke-width="1.2"/>
<line x1="36.5" y1="320.06" x2="38.5" y2="320.06" stroke="#141414" stroke-width="1.2"/>
<line x1="36.5" y1="293.58" x2="38.5" y2="293.58" stroke="#141414" stroke-width="1.2"/>
<line x1="36.5" y1="267.1" x2="38.5" y2="267.1" stroke="#141414" stroke-width="1.2"/>
<line x1="36.5" y1="240.62" x2="38.5" y2="240.62" stroke="#141414" stroke-width="1.2"/>
<line x1="36.5" y1="214.14" x2="38.5" y2="214.14" stroke="#141414" stroke-width="1.2"/>
<line x1="36.5" y1="187.66" x2="38.5" y2="187.66" stroke="#141414" stroke-width="1.2"/>
<line x1="73.96" y1="333.3" x2="73.96" y2="336.3" stroke="#141414" stroke-width="1.2"/>
<line x1="115.42" y1="333.3" x2="115.42" y2="336.3" stroke="#141414" stroke-width="1.2"/>
<line x1="156.88" y1="333.3" x2="156.88" y2="336.3" stroke="#141414" stroke-width="1.2"/>
<line x1="198.34" y1="333.3" x2="198.34" y2="336.3" stroke="#141414" stroke-width="1.2"/>
<line x1="53.23" y1="333.3" x2="53.23" y2="335.3" stroke="#141414" stroke-width="1.2"/>
<line x1="94.69" y1="333.3" x2="94.69" y2="335.3" stroke="#141414" stroke-width="1.2"/>
<line x1="136.15" y1="333.3" x2="136.15" y2="335.3" stroke="#141414" stroke-width="1.2"/>
<line x1="177.61" y1="333.3" x2="177.61" y2="335.3" stroke="#141414" stroke-width="1.2"/>
<text x="32.9" y="336.15" font-size="9.5" font-weight="bold" text-anchor="end" fill="#141414" stroke="#141414" stroke-width="0.22">0</text>
<text x="32.9" y="309.67" font-size="9.5" font-weight="bold" text-anchor="end" fill="#141414" stroke="#141414" stroke-width="0.22">20</text>
<text x="32.9" y="283.19" font-size="9.5" font-weight="bold" text-anchor="end" fill="#141414" stroke="#141414" stroke-width="0.22">40</text>
<text x="32.9" y="256.71" font-size="9.5" font-weight="bold" text-anchor="end" fill="#141414" stroke="#141414" stroke-width="0.22">60</text>
<text x="32.9" y="230.23" font-size="9.5" font-weight="bold" text-anchor="end" fill="#141414" stroke="#141414" stroke-width="0.22">80</text>
<text x="32.9" y="203.75" font-size="9.5" font-weight="bold" text-anchor="end" fill="#141414" stroke="#141414" stroke-width="0.22">100</text>
<text x="73.96" y="346" font-size="9.5" font-weight="bold" text-anchor="middle" fill="#141414" stroke="#141414" stroke-width="0.22">200</text>
<text x="115.42" y="346" font-size="9.5" font-weight="bold" text-anchor="middle" fill="#141414" stroke="#141414" stroke-width="0.22">400</text>
<text x="156.88" y="346" font-size="9.5" font-weight="bold" text-anchor="middle" fill="#141414" stroke="#141414" stroke-width="0.22">600</text>
<text x="198.34" y="346" font-size="9.5" font-weight="bold" text-anchor="middle" fill="#141414" stroke="#141414" stroke-width="0.22">800</text>
<text x="129" y="357.6" font-size="10.4" font-weight="bold" text-anchor="middle" fill="#141414" stroke="#141414" stroke-width="0.2">Temperature <tspan font-weight="normal" stroke-width="0">(&#176;</tspan><tspan font-weight="normal" stroke-width="0" dx="-1">C)</tspan></text>
<text x="0" y="0" font-size="10.4" font-weight="bold" text-anchor="middle" fill="#141414" stroke="#141414" stroke-width="0.2" transform="translate(9,260.5) rotate(-90)">Weight (%)</text>
<line x1="161.1" y1="196.9" x2="180.6" y2="196.9" stroke="#555555" stroke-width="1.6"/>
<text x="183" y="199.7" font-size="8.2" font-weight="bold" text-anchor="start" fill="#141414" stroke="#141414" stroke-width="0.22">PA-10%</text>
<line x1="161.1" y1="207.8" x2="180.6" y2="207.8" stroke="#ee3434" stroke-width="1.6"/>
<text x="183" y="210.6" font-size="8.2" font-weight="bold" text-anchor="start" fill="#141414" stroke="#141414" stroke-width="0.22">PA-15%</text>
<line x1="161.1" y1="218.4" x2="180.6" y2="218.4" stroke="#386cec" stroke-width="1.6"/>
<text x="183" y="221.2" font-size="8.2" font-weight="bold" text-anchor="start" fill="#141414" stroke="#141414" stroke-width="0.22">PA-20%</text>
<line x1="161.1" y1="229.4" x2="180.6" y2="229.4" stroke="#45b25c" stroke-width="1.6"/>
<text x="183" y="232.2" font-size="8.2" font-weight="bold" text-anchor="start" fill="#141414" stroke="#141414" stroke-width="0.22">PA-25%</text>
<line x1="161.1" y1="240" x2="180.6" y2="240" stroke="#b070ee" stroke-width="1.6"/>
<text x="183" y="242.8" font-size="8.2" font-weight="bold" text-anchor="start" fill="#141414" stroke="#141414" stroke-width="0.22">PA-30%</text>
<text x="0" y="194" font-size="22" font-weight="bold" text-anchor="start" fill="#141414" stroke="#141414" stroke-width="0.22">d</text>
<path d="M265.4,201.7C266.3,201.5 268.92,200.02 270.8,200.5C272.68,200.98 274.35,203.82 276.7,204.6C279.05,205.38 282.57,204.32 284.9,205.2C287.23,206.08 288.95,207.37 290.7,209.9C292.45,212.43 294.03,217.3 295.4,220.4C296.77,223.5 297.73,226.75 298.9,228.5C300.07,230.25 301.43,229.15 302.4,230.9C303.37,232.65 304.12,235.82 304.7,239C305.28,242.18 305.13,240.65 305.9,250C306.67,259.35 308.38,283.68 309.3,295.1C310.22,306.52 310.72,317.1 311.4,318.5C312.08,319.9 312.5,312.97 313.4,303.5C314.3,294.03 316.02,271.45 316.8,261.7C317.58,251.95 317.68,251.12 318.1,245C318.52,238.88 318.8,230.08 319.3,225C319.8,219.92 320.42,215.47 321.1,214.5C321.78,213.53 322.05,218.42 323.4,219.2C324.75,219.98 325.6,220.08 329.2,219.2C332.8,218.32 340.52,215.28 345,213.9C349.48,212.52 351.58,210.87 356.1,210.9C360.62,210.93 366.75,212.63 372.1,214.1C377.45,215.57 382.85,217.97 388.2,219.7C393.55,221.43 399.92,223.35 404.2,224.5C408.48,225.65 411.22,225.8 413.9,226.6C416.58,227.4 417.62,229.78 420.3,229.3C422.98,228.82 425.72,226.83 430,223.7C434.28,220.57 443.33,212.7 446,210.5" fill="none" stroke="#555555" stroke-width="1.3" stroke-linejoin="round" stroke-linecap="round"/>
<path d="M265.4,201.5C266.12,201.13 268.02,198.88 269.7,199.3C271.38,199.72 272.97,203.02 275.5,204C278.03,204.98 282.37,204.42 284.9,205.2C287.43,205.98 289.15,206.57 290.7,208.7C292.25,210.83 293.03,214.5 294.2,218C295.37,221.5 296.53,226.58 297.7,229.7C298.87,232.82 300.23,233.32 301.2,236.7C302.17,240.08 302.57,241.65 303.5,250C304.43,258.35 305.75,275.67 306.8,286.8C307.85,297.93 308.97,313.18 309.8,316.8C310.63,320.42 310.92,317.68 311.8,308.5C312.68,299.32 314.27,272.28 315.1,261.7C315.93,251.12 316.38,251.5 316.8,245C317.22,238.5 317.28,227.2 317.6,222.7C317.92,218.2 318.12,218.2 318.7,218C319.28,217.8 319.35,221.3 321.1,221.5C322.85,221.7 325.22,220.55 329.2,219.2C333.18,217.85 340.52,214.65 345,213.4C349.48,212.15 352.92,211.58 356.1,211.7C359.28,211.82 360.1,212.63 364.1,214.1C368.1,215.57 374.75,218.63 380.1,220.5C385.45,222.37 391.65,223.28 396.2,225.3C400.75,227.32 404.45,231.12 407.4,232.6C410.35,234.08 411.75,234.47 413.9,234.2C416.05,233.93 417.62,233.82 420.3,231C422.98,228.18 427.05,220.92 430,217.3C432.95,213.68 435.33,211.27 438,209.3C440.67,207.33 444.67,206.13 446,205.5" fill="none" stroke="#ee3434" stroke-width="1.3" stroke-linejoin="round" stroke-linecap="round"/>
<path d="M265.4,205.2C267.08,205.98 272.83,209.62 275.5,209.9C278.17,210.18 279.25,207.1 281.4,206.9C283.55,206.7 286.27,206.45 288.4,208.7C290.53,210.95 292.65,217.1 294.2,220.4C295.75,223.7 296.53,226.57 297.7,228.5C298.87,230.43 300.23,228.42 301.2,232C302.17,235.58 302.85,242.27 303.5,250C304.15,257.73 304.33,270.05 305.1,278.4C305.87,286.75 307.27,297.32 308.1,300.1C308.93,302.88 309.22,301.5 310.1,295.1C310.98,288.7 312.62,270.05 313.4,261.7C314.18,253.35 314.3,252.08 314.8,245C315.3,237.92 315.85,224.18 316.4,219.2C316.95,214.22 317.32,214.9 318.1,215.1C318.88,215.3 319.25,220.02 321.1,220.4C322.95,220.78 326.05,218.85 329.2,217.4C332.35,215.95 335.52,213.05 340,211.7C344.48,210.35 350.75,209.7 356.1,209.3C361.45,208.9 366.75,208.5 372.1,209.3C377.45,210.1 383.38,211.97 388.2,214.1C393.02,216.23 397.25,219.7 401,222.1C404.75,224.5 407.48,226.88 410.7,228.5C413.92,230.12 417.37,231.67 420.3,231.8C423.23,231.93 425.62,231.05 428.3,229.3C430.98,227.55 433.45,224.43 436.4,221.3C439.35,218.17 444.4,212.3 446,210.5" fill="none" stroke="#386cec" stroke-width="1.3" stroke-linejoin="round" stroke-linecap="round"/>
<path d="M265.4,201.7C266.5,201.6 270.12,200.52 272,201.1C273.88,201.68 274.95,204.32 276.7,205.2C278.45,206.08 280.55,203.87 282.5,206.4C284.45,208.93 286.45,215.73 288.4,220.4C290.35,225.07 292.4,229.8 294.2,234.4C296,239 297.8,241.23 299.2,248C300.6,254.77 301.4,266.6 302.6,275C303.8,283.4 305.28,295.33 306.4,298.4C307.52,301.47 308.13,299.52 309.3,293.4C310.47,287.28 312.43,269.77 313.4,261.7C314.37,253.63 314.6,252.08 315.1,245C315.6,237.92 315.22,222.82 316.4,219.2C317.58,215.58 320.07,223.6 322.2,223.3C324.33,223 326.23,219.2 329.2,217.4C332.17,215.6 335.52,213.85 340,212.5C344.48,211.15 350.75,209.43 356.1,209.3C361.45,209.17 366.75,210.23 372.1,211.7C377.45,213.17 383.38,215.83 388.2,218.1C393.02,220.37 397.8,222.48 401,225.3C404.2,228.12 405.25,232.58 407.4,235C409.55,237.42 411.75,239.67 413.9,239.8C416.05,239.93 417.9,238.75 420.3,235.8C422.7,232.85 425.62,226.25 428.3,222.1C430.98,217.95 433.45,213.75 436.4,210.9C439.35,208.05 444.4,205.98 446,205" fill="none" stroke="#45b25c" stroke-width="1.3" stroke-linejoin="round" stroke-linecap="round"/>
<path d="M265.4,201.7C266.12,201.6 267.82,200.62 269.7,201.1C271.58,201.58 274.57,203.72 276.7,204.6C278.83,205.48 280.55,203.97 282.5,206.4C284.45,208.83 286.65,214.93 288.4,219.2C290.15,223.47 291.75,227.7 293,232C294.25,236.3 295,239.5 295.9,245C296.8,250.5 297.73,259.42 298.4,265C299.07,270.58 299.43,275.57 299.9,278.5C300.37,281.43 300.77,282.15 301.2,282.6C301.63,283.05 302.1,282.22 302.5,281.2C302.9,280.18 303.03,279.75 303.6,276.5C304.17,273.25 305.37,266.95 305.9,261.7C306.43,256.45 306.42,251.12 306.8,245C307.18,238.88 307.58,230.08 308.2,225C308.82,219.92 309.53,215.27 310.5,214.5C311.47,213.73 312.82,218.93 314,220.4C315.18,221.87 316.03,222.92 317.6,223.3C319.17,223.68 321.47,223.77 323.4,222.7C325.33,221.63 326.43,219 329.2,216.9C331.97,214.8 335.52,211.42 340,210.1C344.48,208.78 350.75,209.67 356.1,209C361.45,208.33 367.82,206.18 372.1,206.1C376.38,206.02 378.58,205.97 381.8,208.5C385.02,211.03 388.2,216.62 391.4,221.3C394.6,225.98 398.33,232.58 401,236.6C403.67,240.62 405.25,243.4 407.4,245.4C409.55,247.4 411.75,249 413.9,248.6C416.05,248.2 418.17,246.62 420.3,243C422.43,239.38 424.57,232.25 426.7,226.9C428.83,221.55 430.95,214.5 433.1,210.9C435.25,207.3 437.45,206.87 439.6,205.3C441.75,203.73 444.93,202.13 446,201.5" fill="none" stroke="#b070ee" stroke-width="1.3" stroke-linejoin="round" stroke-linecap="round"/>
<rect x="265" y="188.7" width="181" height="145.3" fill="none" stroke="#141414" stroke-width="1.6"/>
<line x1="262" y1="199.5" x2="265" y2="199.5" stroke="#141414" stroke-width="1.2"/>
<line x1="262" y1="221.85" x2="265" y2="221.85" stroke="#141414" stroke-width="1.2"/>
<line x1="262" y1="244.2" x2="265" y2="244.2" stroke="#141414" stroke-width="1.2"/>
<line x1="262" y1="266.55" x2="265" y2="266.55" stroke="#141414" stroke-width="1.2"/>
<line x1="262" y1="288.9" x2="265" y2="288.9" stroke="#141414" stroke-width="1.2"/>
<line x1="262" y1="311.25" x2="265" y2="311.25" stroke="#141414" stroke-width="1.2"/>
<line x1="262" y1="333.6" x2="265" y2="333.6" stroke="#141414" stroke-width="1.2"/>
<line x1="263" y1="210.68" x2="265" y2="210.68" stroke="#141414" stroke-width="1.2"/>
<line x1="263" y1="233.03" x2="265" y2="233.03" stroke="#141414" stroke-width="1.2"/>
<line x1="263" y1="255.38" x2="265" y2="255.38" stroke="#141414" stroke-width="1.2"/>
<line x1="263" y1="277.73" x2="265" y2="277.73" stroke="#141414" stroke-width="1.2"/>
<line x1="263" y1="300.07" x2="265" y2="300.07" stroke="#141414" stroke-width="1.2"/>
<line x1="263" y1="322.43" x2="265" y2="322.43" stroke="#141414" stroke-width="1.2"/>
<line x1="300.4" y1="334" x2="300.4" y2="337" stroke="#141414" stroke-width="1.2"/>
<line x1="342" y1="334" x2="342" y2="337" stroke="#141414" stroke-width="1.2"/>
<line x1="383.6" y1="334" x2="383.6" y2="337" stroke="#141414" stroke-width="1.2"/>
<line x1="425.2" y1="334" x2="425.2" y2="337" stroke="#141414" stroke-width="1.2"/>
<line x1="279.6" y1="334" x2="279.6" y2="336" stroke="#141414" stroke-width="1.2"/>
<line x1="321.2" y1="334" x2="321.2" y2="336" stroke="#141414" stroke-width="1.2"/>
<line x1="362.8" y1="334" x2="362.8" y2="336" stroke="#141414" stroke-width="1.2"/>
<line x1="404.4" y1="334" x2="404.4" y2="336" stroke="#141414" stroke-width="1.2"/>
<text x="259.4" y="202.35" font-size="9.5" font-weight="bold" text-anchor="end" fill="#141414" stroke="#141414" stroke-width="0.22">0.0</text>
<text x="259.4" y="224.7" font-size="9.5" font-weight="bold" text-anchor="end" fill="#141414" stroke="#141414" stroke-width="0.22">&#8211;0.1</text>
<text x="259.4" y="247.05" font-size="9.5" font-weight="bold" text-anchor="end" fill="#141414" stroke="#141414" stroke-width="0.22">&#8211;0.2</text>
<text x="259.4" y="269.4" font-size="9.5" font-weight="bold" text-anchor="end" fill="#141414" stroke="#141414" stroke-width="0.22">&#8211;0.3</text>
<text x="259.4" y="291.75" font-size="9.5" font-weight="bold" text-anchor="end" fill="#141414" stroke="#141414" stroke-width="0.22">&#8211;0.4</text>
<text x="259.4" y="314.1" font-size="9.5" font-weight="bold" text-anchor="end" fill="#141414" stroke="#141414" stroke-width="0.22">&#8211;0.5</text>
<text x="259.4" y="336.45" font-size="9.5" font-weight="bold" text-anchor="end" fill="#141414" stroke="#141414" stroke-width="0.22">&#8211;0.6</text>
<text x="300.4" y="346" font-size="9.5" font-weight="bold" text-anchor="middle" fill="#141414" stroke="#141414" stroke-width="0.22">200</text>
<text x="342" y="346" font-size="9.5" font-weight="bold" text-anchor="middle" fill="#141414" stroke="#141414" stroke-width="0.22">400</text>
<text x="383.6" y="346" font-size="9.5" font-weight="bold" text-anchor="middle" fill="#141414" stroke="#141414" stroke-width="0.22">600</text>
<text x="425.2" y="346" font-size="9.5" font-weight="bold" text-anchor="middle" fill="#141414" stroke="#141414" stroke-width="0.22">800</text>
<text x="356" y="357.6" font-size="10.4" font-weight="bold" text-anchor="middle" fill="#141414" stroke="#141414" stroke-width="0.2">Temperature <tspan font-weight="normal" stroke-width="0">(&#176;</tspan><tspan font-weight="normal" stroke-width="0" dx="-1">C)</tspan></text>
<text x="0" y="0" font-size="10.1" font-weight="bold" text-anchor="middle" fill="#141414" stroke="#141414" stroke-width="0.2" transform="translate(233.6,262.2) rotate(-90)">Derivative Weight (%/<tspan font-weight="normal">&#176;C</tspan>)</text>
<line x1="301.4" y1="283" x2="301.4" y2="300.1" stroke="#141414" stroke-width="1.15" stroke-dasharray="1.8,1.1"/>
<text x="300.4" y="300.1" font-size="6.6" font-weight="bold" text-anchor="end" fill="#141414" stroke="#141414" stroke-width="0.15">203.56 <tspan font-weight="normal" stroke-width="0">&#176;</tspan><tspan font-weight="normal" stroke-width="0" dx="-0.6">C</tspan></text>
<line x1="306.6" y1="299.5" x2="306.6" y2="308.5" stroke="#141414" stroke-width="1.15" stroke-dasharray="1.8,1.1"/>
<text x="305.6" y="308.5" font-size="6.6" font-weight="bold" text-anchor="end" fill="#141414" stroke="#141414" stroke-width="0.15">228.36 <tspan font-weight="normal" stroke-width="0">&#176;</tspan><tspan font-weight="normal" stroke-width="0" dx="-0.6">C</tspan></text>
<line x1="308.6" y1="300.5" x2="308.6" y2="318.5" stroke="#141414" stroke-width="1.15" stroke-dasharray="1.8,1.1"/>
<text x="307.6" y="318.5" font-size="6.6" font-weight="bold" text-anchor="end" fill="#141414" stroke="#141414" stroke-width="0.15">238.67 <tspan font-weight="normal" stroke-width="0">&#176;</tspan><tspan font-weight="normal" stroke-width="0" dx="-0.6">C</tspan></text>
<line x1="309.9" y1="317" x2="309.9" y2="327.7" stroke="#141414" stroke-width="1.15" stroke-dasharray="1.8,1.1"/>
<text x="308.8" y="327.7" font-size="6.6" font-weight="bold" text-anchor="end" fill="#141414" stroke="#141414" stroke-width="0.15">244.82 <tspan font-weight="normal" stroke-width="0">&#176;</tspan><tspan font-weight="normal" stroke-width="0" dx="-0.6">C</tspan></text>
<line x1="311.5" y1="318.5" x2="311.5" y2="327.7" stroke="#141414" stroke-width="1.15" stroke-dasharray="1.8,1.1"/>
<text x="313.4" y="327.7" font-size="6.6" font-weight="bold" text-anchor="start" fill="#141414" stroke="#141414" stroke-width="0.15">252.95 <tspan font-weight="normal" stroke-width="0">&#176;</tspan><tspan font-weight="normal" stroke-width="0" dx="-0.6">C</tspan></text>
<line x1="384.4" y1="280.4" x2="403.9" y2="280.4" stroke="#555555" stroke-width="1.6"/>
<text x="406.6" y="283.2" font-size="8.2" font-weight="bold" text-anchor="start" fill="#141414" stroke="#141414" stroke-width="0.22">PA-10%</text>
<line x1="384.4" y1="291.3" x2="403.9" y2="291.3" stroke="#ee3434" stroke-width="1.6"/>
<text x="406.6" y="294.1" font-size="8.2" font-weight="bold" text-anchor="start" fill="#141414" stroke="#141414" stroke-width="0.22">PA-15%</text>
<line x1="384.4" y1="302.1" x2="403.9" y2="302.1" stroke="#386cec" stroke-width="1.6"/>
<text x="406.6" y="304.9" font-size="8.2" font-weight="bold" text-anchor="start" fill="#141414" stroke="#141414" stroke-width="0.22">PA-20%</text>
<line x1="384.4" y1="313" x2="403.9" y2="313" stroke="#45b25c" stroke-width="1.6"/>
<text x="406.6" y="315.8" font-size="8.2" font-weight="bold" text-anchor="start" fill="#141414" stroke="#141414" stroke-width="0.22">PA-25%</text>
<line x1="384.4" y1="323.8" x2="403.9" y2="323.8" stroke="#b070ee" stroke-width="1.6"/>
<text x="406.6" y="326.6" font-size="8.2" font-weight="bold" text-anchor="start" fill="#141414" stroke="#141414" stroke-width="0.22">PA-30%</text>
<text x="224.9" y="194" font-size="22" font-weight="bold" text-anchor="start" fill="#141414" stroke="#141414" stroke-width="0.22">e</text>
<rect x="500.6" y="226.9" width="18.1" height="107.7" fill="#b99f88"/>
<rect x="500.6" y="210.79" width="18.1" height="13.91" fill="#b99f88"/>
<rect x="536.74" y="281.26" width="18.1" height="53.34" fill="#8a96e4"/>
<rect x="572.88" y="300.98" width="18.1" height="33.62" fill="#8fbca6"/>
<rect x="609.02" y="320.55" width="18.1" height="14.05" fill="#c9c9c9"/>
<rect x="645.16" y="327.06" width="18.1" height="7.54" fill="#74c3b3"/>
<line x1="509.65" y1="206.36" x2="509.65" y2="215.22" stroke="#141414" stroke-width="1.2"/>
<line x1="507.65" y1="206.36" x2="511.65" y2="206.36" stroke="#141414" stroke-width="1.2"/>
<line x1="507.65" y1="215.22" x2="511.65" y2="215.22" stroke="#141414" stroke-width="1.2"/>
<text x="509.65" y="204.06" font-size="6" font-weight="bold" text-anchor="middle" fill="#141414" stroke="#141414" stroke-width="0.15">645.56</text>
<line x1="545.79" y1="278.11" x2="545.79" y2="284.41" stroke="#141414" stroke-width="1.2"/>
<line x1="543.79" y1="278.11" x2="547.79" y2="278.11" stroke="#141414" stroke-width="1.2"/>
<line x1="543.79" y1="284.41" x2="547.79" y2="284.41" stroke="#141414" stroke-width="1.2"/>
<text x="545.79" y="275.81" font-size="6" font-weight="bold" text-anchor="middle" fill="#141414" stroke="#141414" stroke-width="0.15">32.19</text>
<line x1="581.93" y1="299.65" x2="581.93" y2="302.31" stroke="#141414" stroke-width="1.2"/>
<line x1="579.93" y1="299.65" x2="583.93" y2="299.65" stroke="#141414" stroke-width="1.2"/>
<line x1="579.93" y1="302.31" x2="583.93" y2="302.31" stroke="#141414" stroke-width="1.2"/>
<text x="581.93" y="297.35" font-size="6" font-weight="bold" text-anchor="middle" fill="#141414" stroke="#141414" stroke-width="0.15">20.29</text>
<line x1="618.07" y1="319.72" x2="618.07" y2="321.38" stroke="#141414" stroke-width="1.2"/>
<line x1="616.07" y1="319.72" x2="620.07" y2="319.72" stroke="#141414" stroke-width="1.2"/>
<line x1="616.07" y1="321.38" x2="620.07" y2="321.38" stroke="#141414" stroke-width="1.2"/>
<text x="618.07" y="317.42" font-size="6" font-weight="bold" text-anchor="middle" fill="#141414" stroke="#141414" stroke-width="0.15">8.48</text>
<line x1="654.21" y1="326.4" x2="654.21" y2="327.72" stroke="#141414" stroke-width="1.2"/>
<line x1="652.21" y1="326.4" x2="656.21" y2="326.4" stroke="#141414" stroke-width="1.2"/>
<line x1="652.21" y1="327.72" x2="656.21" y2="327.72" stroke="#141414" stroke-width="1.2"/>
<text x="654.21" y="324.1" font-size="6" font-weight="bold" text-anchor="middle" fill="#141414" stroke="#141414" stroke-width="0.15">4.55</text>
<rect x="491.7" y="189.4" width="180.5" height="145.2" fill="none" stroke="#141414" stroke-width="1.6"/>
<line x1="488.7" y1="334.6" x2="491.7" y2="334.6" stroke="#141414" stroke-width="1.2"/>
<line x1="488.7" y1="318.03" x2="491.7" y2="318.03" stroke="#141414" stroke-width="1.2"/>
<line x1="488.7" y1="301.46" x2="491.7" y2="301.46" stroke="#141414" stroke-width="1.2"/>
<line x1="488.7" y1="284.89" x2="491.7" y2="284.89" stroke="#141414" stroke-width="1.2"/>
<line x1="488.7" y1="268.32" x2="491.7" y2="268.32" stroke="#141414" stroke-width="1.2"/>
<line x1="488.7" y1="251.75" x2="491.7" y2="251.75" stroke="#141414" stroke-width="1.2"/>
<line x1="488.7" y1="235.18" x2="491.7" y2="235.18" stroke="#141414" stroke-width="1.2"/>
<line x1="488.7" y1="217.1" x2="491.7" y2="217.1" stroke="#141414" stroke-width="1.2"/>
<line x1="488.7" y1="203.25" x2="491.7" y2="203.25" stroke="#141414" stroke-width="1.2"/>
<line x1="488.7" y1="189.4" x2="491.7" y2="189.4" stroke="#141414" stroke-width="1.2"/>
<line x1="489.7" y1="326.31" x2="491.7" y2="326.31" stroke="#141414" stroke-width="1.2"/>
<line x1="489.7" y1="309.75" x2="491.7" y2="309.75" stroke="#141414" stroke-width="1.2"/>
<line x1="489.7" y1="293.18" x2="491.7" y2="293.18" stroke="#141414" stroke-width="1.2"/>
<line x1="489.7" y1="276.61" x2="491.7" y2="276.61" stroke="#141414" stroke-width="1.2"/>
<line x1="489.7" y1="260.04" x2="491.7" y2="260.04" stroke="#141414" stroke-width="1.2"/>
<line x1="489.7" y1="243.47" x2="491.7" y2="243.47" stroke="#141414" stroke-width="1.2"/>
<line x1="489.7" y1="226.9" x2="491.7" y2="226.9" stroke="#141414" stroke-width="1.2"/>
<line x1="489.7" y1="210.18" x2="491.7" y2="210.18" stroke="#141414" stroke-width="1.2"/>
<line x1="489.7" y1="196.33" x2="491.7" y2="196.33" stroke="#141414" stroke-width="1.2"/>
<text x="486.1" y="337.45" font-size="9.5" font-weight="bold" text-anchor="end" fill="#141414" stroke="#141414" stroke-width="0.22">0</text>
<text x="486.1" y="320.88" font-size="9.5" font-weight="bold" text-anchor="end" fill="#141414" stroke="#141414" stroke-width="0.22">10</text>
<text x="486.1" y="304.31" font-size="9.5" font-weight="bold" text-anchor="end" fill="#141414" stroke="#141414" stroke-width="0.22">20</text>
<text x="486.1" y="287.74" font-size="9.5" font-weight="bold" text-anchor="end" fill="#141414" stroke="#141414" stroke-width="0.22">30</text>
<text x="486.1" y="271.17" font-size="9.5" font-weight="bold" text-anchor="end" fill="#141414" stroke="#141414" stroke-width="0.22">40</text>
<text x="486.1" y="254.6" font-size="9.5" font-weight="bold" text-anchor="end" fill="#141414" stroke="#141414" stroke-width="0.22">50</text>
<text x="486.1" y="238.03" font-size="9.5" font-weight="bold" text-anchor="end" fill="#141414" stroke="#141414" stroke-width="0.22">60</text>
<text x="486.1" y="219.95" font-size="9.5" font-weight="bold" text-anchor="end" fill="#141414" stroke="#141414" stroke-width="0.22">600</text>
<text x="486.1" y="206.1" font-size="9.5" font-weight="bold" text-anchor="end" fill="#141414" stroke="#141414" stroke-width="0.22">700</text>
<text x="486.1" y="192.25" font-size="9.5" font-weight="bold" text-anchor="end" fill="#141414" stroke="#141414" stroke-width="0.22">800</text>
<line x1="509.65" y1="334.6" x2="509.65" y2="337.6" stroke="#141414" stroke-width="1.2"/>
<line x1="545.79" y1="334.6" x2="545.79" y2="337.6" stroke="#141414" stroke-width="1.2"/>
<line x1="581.93" y1="334.6" x2="581.93" y2="337.6" stroke="#141414" stroke-width="1.2"/>
<line x1="618.07" y1="334.6" x2="618.07" y2="337.6" stroke="#141414" stroke-width="1.2"/>
<line x1="654.21" y1="334.6" x2="654.21" y2="337.6" stroke="#141414" stroke-width="1.2"/>
<polygon points="488.7,226 494.7,223.8 494.7,226.4 488.7,228.6" fill="#fff"/>
<line x1="489.7" y1="225.7" x2="493.7" y2="224" stroke="#141414" stroke-width="1.1"/>
<line x1="489.7" y1="228.1" x2="493.7" y2="226.4" stroke="#141414" stroke-width="1.1"/>
<polygon points="669.2,226 675.2,223.8 675.2,226.4 669.2,228.6" fill="#fff"/>
<line x1="670.2" y1="225.7" x2="674.2" y2="224" stroke="#141414" stroke-width="1.1"/>
<line x1="670.2" y1="228.1" x2="674.2" y2="226.4" stroke="#141414" stroke-width="1.1"/>
<text x="0" y="0" font-size="9.4" font-weight="bold" text-anchor="middle" fill="#141414" stroke="#141414" stroke-width="0.2" transform="translate(511.65,351.5) rotate(-15)">CPA/DJ-10%</text>
<text x="0" y="0" font-size="9.4" font-weight="bold" text-anchor="middle" fill="#141414" stroke="#141414" stroke-width="0.2" transform="translate(547.79,351.5) rotate(-15)">CPA/DJ-15%</text>
<text x="0" y="0" font-size="9.4" font-weight="bold" text-anchor="middle" fill="#141414" stroke="#141414" stroke-width="0.2" transform="translate(583.93,351.5) rotate(-15)">CPA/DJ-20%</text>
<text x="0" y="0" font-size="9.4" font-weight="bold" text-anchor="middle" fill="#141414" stroke="#141414" stroke-width="0.2" transform="translate(620.07,351.5) rotate(-15)">CPA/DJ-25%</text>
<text x="0" y="0" font-size="9.4" font-weight="bold" text-anchor="middle" fill="#141414" stroke="#141414" stroke-width="0.2" transform="translate(656.21,351.5) rotate(-15)">CPA/DJ-30%</text>
<text x="0" y="0" font-size="10.4" font-weight="bold" text-anchor="middle" fill="#141414" stroke="#141414" stroke-width="0.2" transform="translate(461.7,262) rotate(-90)">Sheet resistance (&#937;/&#9633;)</text>
<text x="455.5" y="194.2" font-size="22" font-weight="bold" text-anchor="start" fill="#141414" stroke="#141414" stroke-width="0.22">f</text>
<rect x="51.2" y="482" width="17" height="27.6" fill="#8fbca6"/>
<rect x="51.2" y="445.8" width="17" height="33.9" fill="#8fbca6"/>
<rect x="51.2" y="409.6" width="17" height="33.3" fill="#8fbca6"/>
<rect x="51.2" y="385.73" width="17" height="20.97" fill="#8fbca6"/>
<rect x="86.4" y="482" width="17" height="27.6" fill="#8fbca6"/>
<rect x="86.4" y="445.8" width="17" height="33.9" fill="#8fbca6"/>
<rect x="86.4" y="423.25" width="17" height="19.65" fill="#8fbca6"/>
<rect x="121.6" y="482" width="17" height="27.6" fill="#8fbca6"/>
<rect x="121.6" y="456.93" width="17" height="22.77" fill="#8fbca6"/>
<rect x="156.8" y="494.27" width="17" height="15.33" fill="#8fbca6"/>
<rect x="192" y="506.44" width="17" height="3.16" fill="#8fbca6"/>
<line x1="59.7" y1="379.02" x2="59.7" y2="392.44" stroke="#141414" stroke-width="1.2"/>
<line x1="57.7" y1="379.02" x2="61.7" y2="379.02" stroke="#141414" stroke-width="1.2"/>
<line x1="57.7" y1="392.44" x2="61.7" y2="392.44" stroke="#141414" stroke-width="1.2"/>
<text x="59.7" y="376.72" font-size="6.4" font-weight="bold" text-anchor="middle" fill="#141414" stroke="#141414" stroke-width="0.15">1551.10</text>
<line x1="94.9" y1="416.78" x2="94.9" y2="429.73" stroke="#141414" stroke-width="1.2"/>
<line x1="92.9" y1="416.78" x2="96.9" y2="416.78" stroke="#141414" stroke-width="1.2"/>
<line x1="92.9" y1="429.73" x2="96.9" y2="429.73" stroke="#141414" stroke-width="1.2"/>
<text x="94.9" y="414.48" font-size="6.4" font-weight="bold" text-anchor="middle" fill="#141414" stroke="#141414" stroke-width="0.15">574.71</text>
<line x1="130.1" y1="451.94" x2="130.1" y2="461.92" stroke="#141414" stroke-width="1.2"/>
<line x1="128.1" y1="451.94" x2="132.1" y2="451.94" stroke="#141414" stroke-width="1.2"/>
<line x1="128.1" y1="461.92" x2="132.1" y2="461.92" stroke="#141414" stroke-width="1.2"/>
<text x="130.1" y="449.64" font-size="6.4" font-weight="bold" text-anchor="middle" fill="#141414" stroke="#141414" stroke-width="0.15">8.48</text>
<line x1="165.3" y1="492.87" x2="165.3" y2="495.68" stroke="#141414" stroke-width="1.2"/>
<line x1="163.3" y1="492.87" x2="167.3" y2="492.87" stroke="#141414" stroke-width="1.2"/>
<line x1="163.3" y1="495.68" x2="167.3" y2="495.68" stroke="#141414" stroke-width="1.2"/>
<text x="165.3" y="490.57" font-size="6.4" font-weight="bold" text-anchor="middle" fill="#141414" stroke="#141414" stroke-width="0.15">1.31</text>
<line x1="200.5" y1="505.86" x2="200.5" y2="507.03" stroke="#141414" stroke-width="1.2"/>
<line x1="198.5" y1="505.86" x2="202.5" y2="505.86" stroke="#141414" stroke-width="1.2"/>
<line x1="198.5" y1="507.03" x2="202.5" y2="507.03" stroke="#141414" stroke-width="1.2"/>
<text x="200.5" y="503.56" font-size="6.4" font-weight="bold" text-anchor="middle" fill="#141414" stroke="#141414" stroke-width="0.15">0.27</text>
<rect x="41.7" y="364.7" width="176.7" height="145.1" fill="none" stroke="#141414" stroke-width="1.6"/>
<line x1="38.7" y1="509.6" x2="41.7" y2="509.6" stroke="#141414" stroke-width="1.2"/>
<line x1="38.7" y1="497.9" x2="41.7" y2="497.9" stroke="#141414" stroke-width="1.2"/>
<line x1="38.7" y1="486.2" x2="41.7" y2="486.2" stroke="#141414" stroke-width="1.2"/>
<line x1="38.7" y1="474.1" x2="41.7" y2="474.1" stroke="#141414" stroke-width="1.2"/>
<line x1="38.7" y1="462.5" x2="41.7" y2="462.5" stroke="#141414" stroke-width="1.2"/>
<line x1="38.7" y1="450.9" x2="41.7" y2="450.9" stroke="#141414" stroke-width="1.2"/>
<line x1="38.7" y1="442.3" x2="41.7" y2="442.3" stroke="#141414" stroke-width="1.2"/>
<line x1="38.7" y1="429.35" x2="41.7" y2="429.35" stroke="#141414" stroke-width="1.2"/>
<line x1="38.7" y1="416.4" x2="41.7" y2="416.4" stroke="#141414" stroke-width="1.2"/>
<line x1="38.7" y1="399.1" x2="41.7" y2="399.1" stroke="#141414" stroke-width="1.2"/>
<line x1="38.7" y1="381.9" x2="41.7" y2="381.9" stroke="#141414" stroke-width="1.2"/>
<line x1="38.7" y1="364.7" x2="41.7" y2="364.7" stroke="#141414" stroke-width="1.2"/>
<line x1="39.7" y1="503.75" x2="41.7" y2="503.75" stroke="#141414" stroke-width="1.2"/>
<line x1="39.7" y1="492.05" x2="41.7" y2="492.05" stroke="#141414" stroke-width="1.2"/>
<line x1="39.7" y1="468.3" x2="41.7" y2="468.3" stroke="#141414" stroke-width="1.2"/>
<line x1="39.7" y1="456.7" x2="41.7" y2="456.7" stroke="#141414" stroke-width="1.2"/>
<line x1="39.7" y1="435.82" x2="41.7" y2="435.82" stroke="#141414" stroke-width="1.2"/>
<line x1="39.7" y1="422.88" x2="41.7" y2="422.88" stroke="#141414" stroke-width="1.2"/>
<line x1="39.7" y1="390.5" x2="41.7" y2="390.5" stroke="#141414" stroke-width="1.2"/>
<line x1="39.7" y1="373.3" x2="41.7" y2="373.3" stroke="#141414" stroke-width="1.2"/>
<text x="36.1" y="512.45" font-size="9.5" font-weight="bold" text-anchor="end" fill="#141414" stroke="#141414" stroke-width="0.22">0</text>
<text x="36.1" y="500.75" font-size="9.5" font-weight="bold" text-anchor="end" fill="#141414" stroke="#141414" stroke-width="0.22">1</text>
<text x="36.1" y="489.05" font-size="9.5" font-weight="bold" text-anchor="end" fill="#141414" stroke="#141414" stroke-width="0.22">2</text>
<text x="36.1" y="476.95" font-size="9.5" font-weight="bold" text-anchor="end" fill="#141414" stroke="#141414" stroke-width="0.22">7</text>
<text x="36.1" y="465.35" font-size="9.5" font-weight="bold" text-anchor="end" fill="#141414" stroke="#141414" stroke-width="0.22">8</text>
<text x="36.1" y="453.75" font-size="9.5" font-weight="bold" text-anchor="end" fill="#141414" stroke="#141414" stroke-width="0.22">9</text>
<text x="36.1" y="445.15" font-size="9.5" font-weight="bold" text-anchor="end" fill="#141414" stroke="#141414" stroke-width="0.22">560</text>
<text x="36.1" y="432.2" font-size="9.5" font-weight="bold" text-anchor="end" fill="#141414" stroke="#141414" stroke-width="0.22">570</text>
<text x="36.1" y="419.25" font-size="9.5" font-weight="bold" text-anchor="end" fill="#141414" stroke="#141414" stroke-width="0.22">580</text>
<text x="36.1" y="401.95" font-size="9.5" font-weight="bold" text-anchor="end" fill="#141414" stroke="#141414" stroke-width="0.22">1520</text>
<text x="36.1" y="384.75" font-size="9.5" font-weight="bold" text-anchor="end" fill="#141414" stroke="#141414" stroke-width="0.22">1560</text>
<text x="36.1" y="367.55" font-size="9.5" font-weight="bold" text-anchor="end" fill="#141414" stroke="#141414" stroke-width="0.22">1600</text>
<line x1="59.7" y1="509.8" x2="59.7" y2="512.8" stroke="#141414" stroke-width="1.2"/>
<line x1="94.9" y1="509.8" x2="94.9" y2="512.8" stroke="#141414" stroke-width="1.2"/>
<line x1="130.1" y1="509.8" x2="130.1" y2="512.8" stroke="#141414" stroke-width="1.2"/>
<line x1="165.3" y1="509.8" x2="165.3" y2="512.8" stroke="#141414" stroke-width="1.2"/>
<line x1="200.5" y1="509.8" x2="200.5" y2="512.8" stroke="#141414" stroke-width="1.2"/>
<text x="59.7" y="523" font-size="9.5" font-weight="bold" text-anchor="middle" fill="#141414" stroke="#141414" stroke-width="0.22">400</text>
<text x="94.9" y="523" font-size="9.5" font-weight="bold" text-anchor="middle" fill="#141414" stroke="#141414" stroke-width="0.22">450</text>
<text x="130.1" y="523" font-size="9.5" font-weight="bold" text-anchor="middle" fill="#141414" stroke="#141414" stroke-width="0.22">500</text>
<text x="165.3" y="523" font-size="9.5" font-weight="bold" text-anchor="middle" fill="#141414" stroke="#141414" stroke-width="0.22">550</text>
<text x="200.5" y="523" font-size="9.5" font-weight="bold" text-anchor="middle" fill="#141414" stroke="#141414" stroke-width="0.22">600</text>
<text x="130" y="534.6" font-size="10.4" font-weight="bold" text-anchor="middle" fill="#141414" stroke="#141414" stroke-width="0.2">Temperature <tspan font-weight="normal" stroke-width="0">(&#176;</tspan><tspan font-weight="normal" stroke-width="0" dx="-1">C)</tspan></text>
<polygon points="38.7,481.05 44.7,478.85 44.7,481.45 38.7,483.65" fill="#fff"/>
<line x1="39.7" y1="480.75" x2="43.7" y2="479.05" stroke="#141414" stroke-width="1.1"/>
<line x1="39.7" y1="483.15" x2="43.7" y2="481.45" stroke="#141414" stroke-width="1.1"/>
<polygon points="215.4,481.05 221.4,478.85 221.4,481.45 215.4,483.65" fill="#fff"/>
<line x1="216.4" y1="480.75" x2="220.4" y2="479.05" stroke="#141414" stroke-width="1.1"/>
<line x1="216.4" y1="483.15" x2="220.4" y2="481.45" stroke="#141414" stroke-width="1.1"/>
<polygon points="38.7,444.55 44.7,442.35 44.7,444.95 38.7,447.15" fill="#fff"/>
<line x1="39.7" y1="444.25" x2="43.7" y2="442.55" stroke="#141414" stroke-width="1.1"/>
<line x1="39.7" y1="446.65" x2="43.7" y2="444.95" stroke="#141414" stroke-width="1.1"/>
<polygon points="215.4,444.55 221.4,442.35 221.4,444.95 215.4,447.15" fill="#fff"/>
<line x1="216.4" y1="444.25" x2="220.4" y2="442.55" stroke="#141414" stroke-width="1.1"/>
<line x1="216.4" y1="446.65" x2="220.4" y2="444.95" stroke="#141414" stroke-width="1.1"/>
<polygon points="38.7,408.35 44.7,406.15 44.7,408.75 38.7,410.95" fill="#fff"/>
<line x1="39.7" y1="408.05" x2="43.7" y2="406.35" stroke="#141414" stroke-width="1.1"/>
<line x1="39.7" y1="410.45" x2="43.7" y2="408.75" stroke="#141414" stroke-width="1.1"/>
<polygon points="215.4,408.35 221.4,406.15 221.4,408.75 215.4,410.95" fill="#fff"/>
<line x1="216.4" y1="408.05" x2="220.4" y2="406.35" stroke="#141414" stroke-width="1.1"/>
<line x1="216.4" y1="410.45" x2="220.4" y2="408.75" stroke="#141414" stroke-width="1.1"/>
<text x="0" y="0" font-size="10.4" font-weight="bold" text-anchor="middle" fill="#141414" stroke="#141414" stroke-width="0.2" transform="translate(8.8,437) rotate(-90)">Sheet resistance (&#937;/&#9633;)</text>
<text x="0.4" y="370" font-size="22" font-weight="bold" text-anchor="start" fill="#141414" stroke="#141414" stroke-width="0.22">g</text>
<rect x="273.7" y="453.9" width="18" height="56.7" fill="#8a96e4"/>
<rect x="273.7" y="425.1" width="18" height="25.7" fill="#8a96e4"/>
<rect x="273.7" y="384.96" width="18" height="36.64" fill="#8a96e4"/>
<rect x="310.1" y="453.9" width="18" height="56.7" fill="#8a96e4"/>
<rect x="310.1" y="436.91" width="18" height="13.89" fill="#8a96e4"/>
<rect x="346.5" y="463.31" width="18" height="47.29" fill="#8a96e4"/>
<rect x="382.9" y="499.48" width="18" height="11.12" fill="#8a96e4"/>
<rect x="419.3" y="506.14" width="18" height="4.46" fill="#8a96e4"/>
<line x1="282.7" y1="381.38" x2="282.7" y2="388.54" stroke="#141414" stroke-width="1.2"/>
<line x1="280.7" y1="381.38" x2="284.7" y2="381.38" stroke="#141414" stroke-width="1.2"/>
<line x1="280.7" y1="388.54" x2="284.7" y2="388.54" stroke="#141414" stroke-width="1.2"/>
<text x="282.7" y="379.08" font-size="6.4" font-weight="bold" text-anchor="middle" fill="#141414" stroke="#141414" stroke-width="0.15">5812.23</text>
<line x1="319.1" y1="433.17" x2="319.1" y2="440.65" stroke="#141414" stroke-width="1.2"/>
<line x1="317.1" y1="433.17" x2="321.1" y2="433.17" stroke="#141414" stroke-width="1.2"/>
<line x1="317.1" y1="440.65" x2="321.1" y2="440.65" stroke="#141414" stroke-width="1.2"/>
<text x="319.1" y="430.87" font-size="6.4" font-weight="bold" text-anchor="middle" fill="#141414" stroke="#141414" stroke-width="0.15">551.98</text>
<line x1="355.5" y1="460.83" x2="355.5" y2="465.78" stroke="#141414" stroke-width="1.2"/>
<line x1="353.5" y1="460.83" x2="357.5" y2="460.83" stroke="#141414" stroke-width="1.2"/>
<line x1="353.5" y1="465.78" x2="357.5" y2="465.78" stroke="#141414" stroke-width="1.2"/>
<text x="355.5" y="458.53" font-size="6.4" font-weight="bold" text-anchor="middle" fill="#141414" stroke="#141414" stroke-width="0.15">6.68</text>
<line x1="391.9" y1="497.36" x2="391.9" y2="501.61" stroke="#141414" stroke-width="1.2"/>
<line x1="389.9" y1="497.36" x2="393.9" y2="497.36" stroke="#141414" stroke-width="1.2"/>
<line x1="389.9" y1="501.61" x2="393.9" y2="501.61" stroke="#141414" stroke-width="1.2"/>
<text x="391.9" y="495.06" font-size="6.4" font-weight="bold" text-anchor="middle" fill="#141414" stroke="#141414" stroke-width="0.15">1.57</text>
<line x1="428.3" y1="505.43" x2="428.3" y2="506.85" stroke="#141414" stroke-width="1.2"/>
<line x1="426.3" y1="505.43" x2="430.3" y2="505.43" stroke="#141414" stroke-width="1.2"/>
<line x1="426.3" y1="506.85" x2="430.3" y2="506.85" stroke="#141414" stroke-width="1.2"/>
<text x="428.3" y="503.13" font-size="6.4" font-weight="bold" text-anchor="middle" fill="#141414" stroke="#141414" stroke-width="0.15">0.63</text>
<rect x="264.7" y="365.3" width="181.9" height="145.3" fill="none" stroke="#141414" stroke-width="1.6"/>
<line x1="261.7" y1="510.6" x2="264.7" y2="510.6" stroke="#141414" stroke-width="1.2"/>
<line x1="261.7" y1="496.44" x2="264.7" y2="496.44" stroke="#141414" stroke-width="1.2"/>
<line x1="261.7" y1="482.28" x2="264.7" y2="482.28" stroke="#141414" stroke-width="1.2"/>
<line x1="261.7" y1="468.12" x2="264.7" y2="468.12" stroke="#141414" stroke-width="1.2"/>
<line x1="261.7" y1="447" x2="264.7" y2="447" stroke="#141414" stroke-width="1.2"/>
<line x1="261.7" y1="437.65" x2="264.7" y2="437.65" stroke="#141414" stroke-width="1.2"/>
<line x1="261.7" y1="428.3" x2="264.7" y2="428.3" stroke="#141414" stroke-width="1.2"/>
<line x1="261.7" y1="410.1" x2="264.7" y2="410.1" stroke="#141414" stroke-width="1.2"/>
<line x1="261.7" y1="398.9" x2="264.7" y2="398.9" stroke="#141414" stroke-width="1.2"/>
<line x1="261.7" y1="387.7" x2="264.7" y2="387.7" stroke="#141414" stroke-width="1.2"/>
<line x1="261.7" y1="376.5" x2="264.7" y2="376.5" stroke="#141414" stroke-width="1.2"/>
<line x1="261.7" y1="365.3" x2="264.7" y2="365.3" stroke="#141414" stroke-width="1.2"/>
<line x1="262.7" y1="503.52" x2="264.7" y2="503.52" stroke="#141414" stroke-width="1.2"/>
<line x1="262.7" y1="489.36" x2="264.7" y2="489.36" stroke="#141414" stroke-width="1.2"/>
<line x1="262.7" y1="475.2" x2="264.7" y2="475.2" stroke="#141414" stroke-width="1.2"/>
<line x1="262.7" y1="461.04" x2="264.7" y2="461.04" stroke="#141414" stroke-width="1.2"/>
<line x1="262.7" y1="442.32" x2="264.7" y2="442.32" stroke="#141414" stroke-width="1.2"/>
<line x1="262.7" y1="432.98" x2="264.7" y2="432.98" stroke="#141414" stroke-width="1.2"/>
<line x1="262.7" y1="419.06" x2="264.7" y2="419.06" stroke="#141414" stroke-width="1.2"/>
<line x1="262.7" y1="416.82" x2="264.7" y2="416.82" stroke="#141414" stroke-width="1.2"/>
<line x1="262.7" y1="414.58" x2="264.7" y2="414.58" stroke="#141414" stroke-width="1.2"/>
<line x1="262.7" y1="412.34" x2="264.7" y2="412.34" stroke="#141414" stroke-width="1.2"/>
<line x1="262.7" y1="407.86" x2="264.7" y2="407.86" stroke="#141414" stroke-width="1.2"/>
<line x1="262.7" y1="405.62" x2="264.7" y2="405.62" stroke="#141414" stroke-width="1.2"/>
<line x1="262.7" y1="403.38" x2="264.7" y2="403.38" stroke="#141414" stroke-width="1.2"/>
<line x1="262.7" y1="401.14" x2="264.7" y2="401.14" stroke="#141414" stroke-width="1.2"/>
<line x1="262.7" y1="396.66" x2="264.7" y2="396.66" stroke="#141414" stroke-width="1.2"/>
<line x1="262.7" y1="394.42" x2="264.7" y2="394.42" stroke="#141414" stroke-width="1.2"/>
<line x1="262.7" y1="392.18" x2="264.7" y2="392.18" stroke="#141414" stroke-width="1.2"/>
<line x1="262.7" y1="389.94" x2="264.7" y2="389.94" stroke="#141414" stroke-width="1.2"/>
<line x1="262.7" y1="385.46" x2="264.7" y2="385.46" stroke="#141414" stroke-width="1.2"/>
<line x1="262.7" y1="383.22" x2="264.7" y2="383.22" stroke="#141414" stroke-width="1.2"/>
<line x1="262.7" y1="380.98" x2="264.7" y2="380.98" stroke="#141414" stroke-width="1.2"/>
<line x1="262.7" y1="378.74" x2="264.7" y2="378.74" stroke="#141414" stroke-width="1.2"/>
<line x1="262.7" y1="374.26" x2="264.7" y2="374.26" stroke="#141414" stroke-width="1.2"/>
<line x1="262.7" y1="372.02" x2="264.7" y2="372.02" stroke="#141414" stroke-width="1.2"/>
<line x1="262.7" y1="369.78" x2="264.7" y2="369.78" stroke="#141414" stroke-width="1.2"/>
<line x1="262.7" y1="367.54" x2="264.7" y2="367.54" stroke="#141414" stroke-width="1.2"/>
<text x="259.1" y="513.45" font-size="9.5" font-weight="bold" text-anchor="end" fill="#141414" stroke="#141414" stroke-width="0.22">0</text>
<text x="259.1" y="499.29" font-size="9.5" font-weight="bold" text-anchor="end" fill="#141414" stroke="#141414" stroke-width="0.22">2</text>
<text x="259.1" y="485.13" font-size="9.5" font-weight="bold" text-anchor="end" fill="#141414" stroke="#141414" stroke-width="0.22">4</text>
<text x="259.1" y="470.97" font-size="9.5" font-weight="bold" text-anchor="end" fill="#141414" stroke="#141414" stroke-width="0.22">6</text>
<text x="259.1" y="449.85" font-size="9.5" font-weight="bold" text-anchor="end" fill="#141414" stroke="#141414" stroke-width="0.22">525</text>
<text x="259.1" y="440.5" font-size="9.5" font-weight="bold" text-anchor="end" fill="#141414" stroke="#141414" stroke-width="0.22">550</text>
<text x="259.1" y="431.15" font-size="9.5" font-weight="bold" text-anchor="end" fill="#141414" stroke="#141414" stroke-width="0.22">575</text>
<text x="259.1" y="412.95" font-size="9.5" font-weight="bold" text-anchor="end" fill="#141414" stroke="#141414" stroke-width="0.22">5700</text>
<text x="259.1" y="401.75" font-size="9.5" font-weight="bold" text-anchor="end" fill="#141414" stroke="#141414" stroke-width="0.22">5750</text>
<text x="259.1" y="390.55" font-size="9.5" font-weight="bold" text-anchor="end" fill="#141414" stroke="#141414" stroke-width="0.22">5800</text>
<text x="259.1" y="379.35" font-size="9.5" font-weight="bold" text-anchor="end" fill="#141414" stroke="#141414" stroke-width="0.22">5850</text>
<text x="259.1" y="368.15" font-size="9.5" font-weight="bold" text-anchor="end" fill="#141414" stroke="#141414" stroke-width="0.22">5900</text>
<line x1="282.7" y1="510.6" x2="282.7" y2="513.6" stroke="#141414" stroke-width="1.2"/>
<line x1="319.1" y1="510.6" x2="319.1" y2="513.6" stroke="#141414" stroke-width="1.2"/>
<line x1="355.5" y1="510.6" x2="355.5" y2="513.6" stroke="#141414" stroke-width="1.2"/>
<line x1="391.9" y1="510.6" x2="391.9" y2="513.6" stroke="#141414" stroke-width="1.2"/>
<line x1="428.3" y1="510.6" x2="428.3" y2="513.6" stroke="#141414" stroke-width="1.2"/>
<text x="282.7" y="523" font-size="9.5" font-weight="bold" text-anchor="middle" fill="#141414" stroke="#141414" stroke-width="0.22">600</text>
<text x="319.1" y="523" font-size="9.5" font-weight="bold" text-anchor="middle" fill="#141414" stroke="#141414" stroke-width="0.22">650</text>
<text x="355.5" y="523" font-size="9.5" font-weight="bold" text-anchor="middle" fill="#141414" stroke="#141414" stroke-width="0.22">700</text>
<text x="391.9" y="523" font-size="9.5" font-weight="bold" text-anchor="middle" fill="#141414" stroke="#141414" stroke-width="0.22">750</text>
<text x="428.3" y="523" font-size="9.5" font-weight="bold" text-anchor="middle" fill="#141414" stroke="#141414" stroke-width="0.22">800</text>
<text x="356" y="534.6" font-size="10.4" font-weight="bold" text-anchor="middle" fill="#141414" stroke="#141414" stroke-width="0.2">Temperature <tspan font-weight="normal" stroke-width="0">(&#176;</tspan><tspan font-weight="normal" stroke-width="0" dx="-1">C)</tspan></text>
<polygon points="261.7,452.55 267.7,450.35 267.7,452.95 261.7,455.15" fill="#fff"/>
<line x1="262.7" y1="452.25" x2="266.7" y2="450.55" stroke="#141414" stroke-width="1.1"/>
<line x1="262.7" y1="454.65" x2="266.7" y2="452.95" stroke="#141414" stroke-width="1.1"/>
<polygon points="443.6,452.55 449.6,450.35 449.6,452.95 443.6,455.15" fill="#fff"/>
<line x1="444.6" y1="452.25" x2="448.6" y2="450.55" stroke="#141414" stroke-width="1.1"/>
<line x1="444.6" y1="454.65" x2="448.6" y2="452.95" stroke="#141414" stroke-width="1.1"/>
<polygon points="261.7,423.55 267.7,421.35 267.7,423.95 261.7,426.15" fill="#fff"/>
<line x1="262.7" y1="423.25" x2="266.7" y2="421.55" stroke="#141414" stroke-width="1.1"/>
<line x1="262.7" y1="425.65" x2="266.7" y2="423.95" stroke="#141414" stroke-width="1.1"/>
<polygon points="443.6,423.55 449.6,421.35 449.6,423.95 443.6,426.15" fill="#fff"/>
<line x1="444.6" y1="423.25" x2="448.6" y2="421.55" stroke="#141414" stroke-width="1.1"/>
<line x1="444.6" y1="425.65" x2="448.6" y2="423.95" stroke="#141414" stroke-width="1.1"/>
<text x="0" y="0" font-size="10.4" font-weight="bold" text-anchor="middle" fill="#141414" stroke="#141414" stroke-width="0.2" transform="translate(230.5,437) rotate(-90)">Sheet resistance (&#937;/&#9633;)</text>
<text x="222.3" y="369.2" font-size="22" font-weight="bold" text-anchor="start" fill="#141414" stroke="#141414" stroke-width="0.22">h</text>
<rect x="499" y="383.04" width="15" height="127.06" fill="#b99f88"/>
<rect x="529.15" y="408.23" width="15" height="101.87" fill="#8a96e4"/>
<rect x="559.3" y="424.6" width="15" height="85.5" fill="#8fbca6"/>
<rect x="589.45" y="448.7" width="15" height="61.4" fill="#c9c9c9"/>
<rect x="619.6" y="446.97" width="15" height="63.13" fill="#74c3b3"/>
<rect x="649.75" y="450.08" width="15" height="60.02" fill="#8badbf"/>
<line x1="506.5" y1="379.06" x2="506.5" y2="387.02" stroke="#141414" stroke-width="1.2"/>
<line x1="504.5" y1="379.06" x2="508.5" y2="379.06" stroke="#141414" stroke-width="1.2"/>
<line x1="504.5" y1="387.02" x2="508.5" y2="387.02" stroke="#141414" stroke-width="1.2"/>
<text x="506.5" y="394.02" font-size="5.6" font-weight="bold" text-anchor="middle" fill="#141414" stroke="#141414" stroke-width="0.15">17.55</text>
<line x1="536.65" y1="404.11" x2="536.65" y2="412.36" stroke="#141414" stroke-width="1.2"/>
<line x1="534.65" y1="404.11" x2="538.65" y2="404.11" stroke="#141414" stroke-width="1.2"/>
<line x1="534.65" y1="412.36" x2="538.65" y2="412.36" stroke="#141414" stroke-width="1.2"/>
<text x="536.65" y="419.36" font-size="5.6" font-weight="bold" text-anchor="middle" fill="#141414" stroke="#141414" stroke-width="0.15">14.07</text>
<line x1="566.8" y1="422.42" x2="566.8" y2="426.77" stroke="#141414" stroke-width="1.2"/>
<line x1="564.8" y1="422.42" x2="568.8" y2="422.42" stroke="#141414" stroke-width="1.2"/>
<line x1="564.8" y1="426.77" x2="568.8" y2="426.77" stroke="#141414" stroke-width="1.2"/>
<text x="566.8" y="433.77" font-size="5.6" font-weight="bold" text-anchor="middle" fill="#141414" stroke="#141414" stroke-width="0.15">11.81</text>
<line x1="596.95" y1="445.23" x2="596.95" y2="452.18" stroke="#141414" stroke-width="1.2"/>
<line x1="594.95" y1="445.23" x2="598.95" y2="445.23" stroke="#141414" stroke-width="1.2"/>
<line x1="594.95" y1="452.18" x2="598.95" y2="452.18" stroke="#141414" stroke-width="1.2"/>
<text x="596.95" y="459.18" font-size="5.6" font-weight="bold" text-anchor="middle" fill="#141414" stroke="#141414" stroke-width="0.15">8.48</text>
<line x1="627.1" y1="443.64" x2="627.1" y2="450.3" stroke="#141414" stroke-width="1.2"/>
<line x1="625.1" y1="443.64" x2="629.1" y2="443.64" stroke="#141414" stroke-width="1.2"/>
<line x1="625.1" y1="450.3" x2="629.1" y2="450.3" stroke="#141414" stroke-width="1.2"/>
<text x="627.1" y="457.3" font-size="5.6" font-weight="bold" text-anchor="middle" fill="#141414" stroke="#141414" stroke-width="0.15">8.72</text>
<line x1="657.25" y1="447.91" x2="657.25" y2="452.25" stroke="#141414" stroke-width="1.2"/>
<line x1="655.25" y1="447.91" x2="659.25" y2="447.91" stroke="#141414" stroke-width="1.2"/>
<line x1="655.25" y1="452.25" x2="659.25" y2="452.25" stroke="#141414" stroke-width="1.2"/>
<text x="657.25" y="459.25" font-size="5.6" font-weight="bold" text-anchor="middle" fill="#141414" stroke="#141414" stroke-width="0.15">8.29</text>
<rect x="491.6" y="365.3" width="180.6" height="144.8" fill="none" stroke="#141414" stroke-width="1.6"/>
<line x1="488.6" y1="510.1" x2="491.6" y2="510.1" stroke="#141414" stroke-width="1.2"/>
<line x1="488.6" y1="473.9" x2="491.6" y2="473.9" stroke="#141414" stroke-width="1.2"/>
<line x1="488.6" y1="437.7" x2="491.6" y2="437.7" stroke="#141414" stroke-width="1.2"/>
<line x1="488.6" y1="401.5" x2="491.6" y2="401.5" stroke="#141414" stroke-width="1.2"/>
<line x1="488.6" y1="365.3" x2="491.6" y2="365.3" stroke="#141414" stroke-width="1.2"/>
<line x1="489.6" y1="492" x2="491.6" y2="492" stroke="#141414" stroke-width="1.2"/>
<line x1="489.6" y1="455.8" x2="491.6" y2="455.8" stroke="#141414" stroke-width="1.2"/>
<line x1="489.6" y1="419.6" x2="491.6" y2="419.6" stroke="#141414" stroke-width="1.2"/>
<line x1="489.6" y1="383.4" x2="491.6" y2="383.4" stroke="#141414" stroke-width="1.2"/>
<text x="486" y="512.95" font-size="9.5" font-weight="bold" text-anchor="end" fill="#141414" stroke="#141414" stroke-width="0.22">0</text>
<text x="486" y="476.75" font-size="9.5" font-weight="bold" text-anchor="end" fill="#141414" stroke="#141414" stroke-width="0.22">5</text>
<text x="486" y="440.55" font-size="9.5" font-weight="bold" text-anchor="end" fill="#141414" stroke="#141414" stroke-width="0.22">10</text>
<text x="486" y="404.35" font-size="9.5" font-weight="bold" text-anchor="end" fill="#141414" stroke="#141414" stroke-width="0.22">15</text>
<text x="486" y="368.15" font-size="9.5" font-weight="bold" text-anchor="end" fill="#141414" stroke="#141414" stroke-width="0.22">20</text>
<line x1="506.5" y1="510.1" x2="506.5" y2="513.1" stroke="#141414" stroke-width="1.2"/>
<line x1="536.65" y1="510.1" x2="536.65" y2="513.1" stroke="#141414" stroke-width="1.2"/>
<line x1="566.8" y1="510.1" x2="566.8" y2="513.1" stroke="#141414" stroke-width="1.2"/>
<line x1="596.95" y1="510.1" x2="596.95" y2="513.1" stroke="#141414" stroke-width="1.2"/>
<line x1="627.1" y1="510.1" x2="627.1" y2="513.1" stroke="#141414" stroke-width="1.2"/>
<line x1="657.25" y1="510.1" x2="657.25" y2="513.1" stroke="#141414" stroke-width="1.2"/>
<text x="506.5" y="523" font-size="9.5" font-weight="bold" text-anchor="middle" fill="#141414" stroke="#141414" stroke-width="0.22">10</text>
<text x="536.65" y="523" font-size="9.5" font-weight="bold" text-anchor="middle" fill="#141414" stroke="#141414" stroke-width="0.22">20</text>
<text x="566.8" y="523" font-size="9.5" font-weight="bold" text-anchor="middle" fill="#141414" stroke="#141414" stroke-width="0.22">30</text>
<text x="596.95" y="523" font-size="9.5" font-weight="bold" text-anchor="middle" fill="#141414" stroke="#141414" stroke-width="0.22">40</text>
<text x="627.1" y="523" font-size="9.5" font-weight="bold" text-anchor="middle" fill="#141414" stroke="#141414" stroke-width="0.22">50</text>
<text x="657.25" y="523" font-size="9.5" font-weight="bold" text-anchor="middle" fill="#141414" stroke="#141414" stroke-width="0.22">60</text>
<text x="581.5" y="534.6" font-size="10.4" font-weight="bold" text-anchor="middle" fill="#141414" stroke="#141414" stroke-width="0.22">Time (min)</text>
<text x="0" y="0" font-size="9.8" font-weight="bold" text-anchor="middle" fill="#141414" stroke="#141414" stroke-width="0.2" transform="translate(461.7,438.2) rotate(-90)">Sheet resistance(&#937;/&#9633;)</text>
<text x="455.5" y="369.6" font-size="22" font-weight="bold" text-anchor="start" fill="#141414" stroke="#141414" stroke-width="0.22">i</text>
</svg>
</body></html>
